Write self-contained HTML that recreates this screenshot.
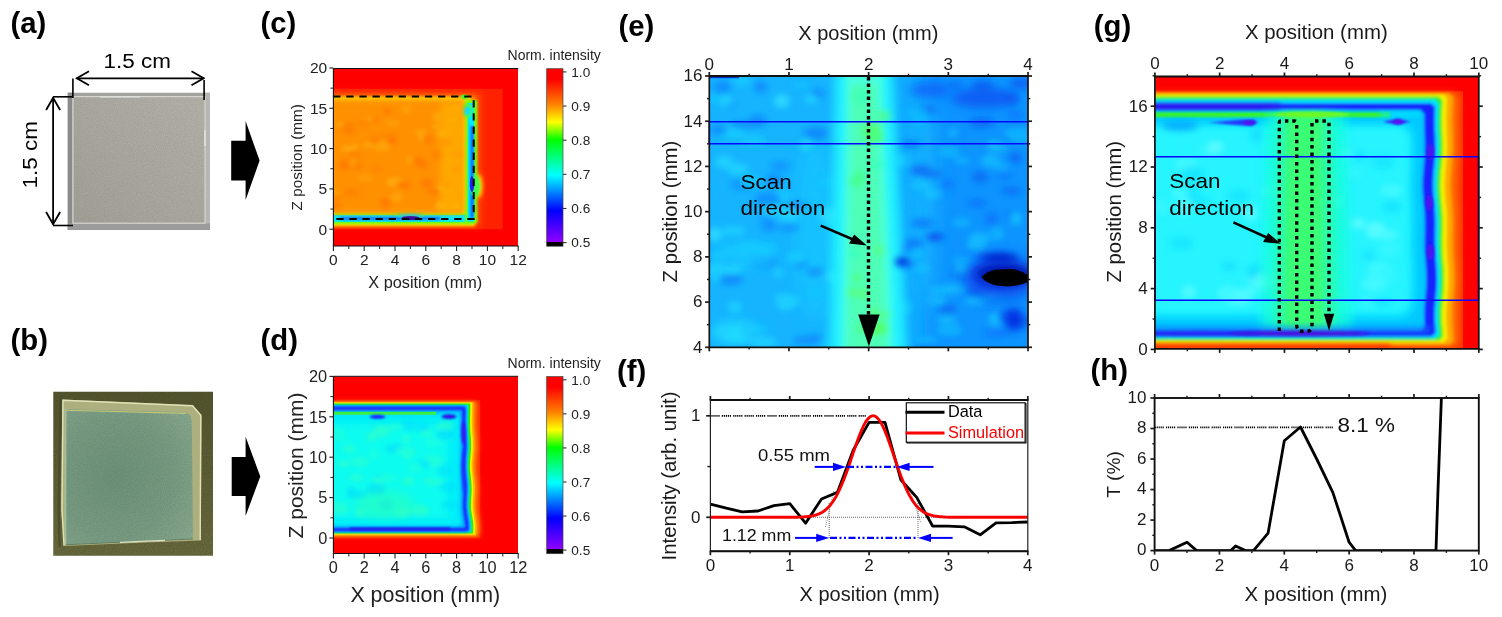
<!DOCTYPE html>
<html lang="en">
<head>
<meta charset="utf-8">
<title>Figure</title>
<style>
html,body{margin:0;padding:0;background:#ffffff;}
body{width:1502px;height:617px;overflow:hidden;}
svg{display:block;font-family:"Liberation Sans",Arial,sans-serif;}
</style>
</head>
<body>
<svg width="1502" height="617" viewBox="0 0 1502 617">
<rect x="0" y="0" width="1502" height="617" fill="#ffffff"/>
<defs>
<linearGradient id="cbar" x1="0" y1="0" x2="0" y2="1">
<stop offset="0.0" stop-color="#ff0000"/>
<stop offset="0.06" stop-color="#ff0000"/>
<stop offset="0.2" stop-color="#ff8000"/>
<stop offset="0.3" stop-color="#ffff00"/>
<stop offset="0.4" stop-color="#00ff00"/>
<stop offset="0.6" stop-color="#00ffff"/>
<stop offset="0.8" stop-color="#0000ff"/>
<stop offset="0.975" stop-color="#9000ff"/>
<stop offset="0.975" stop-color="#000000"/>
<stop offset="1.0" stop-color="#000000"/>
</linearGradient>
<filter id="b1" filterUnits="userSpaceOnUse" x="0" y="0" width="1502" height="617"><feGaussianBlur stdDeviation="1"/></filter>
<filter id="b07" filterUnits="userSpaceOnUse" x="0" y="0" width="1502" height="617"><feGaussianBlur stdDeviation="0.7"/></filter>
<filter id="b15" filterUnits="userSpaceOnUse" x="0" y="0" width="1502" height="617"><feGaussianBlur stdDeviation="1.5"/></filter>
<filter id="b2" filterUnits="userSpaceOnUse" x="0" y="0" width="1502" height="617"><feGaussianBlur stdDeviation="2"/></filter>
<filter id="b3" filterUnits="userSpaceOnUse" x="0" y="0" width="1502" height="617"><feGaussianBlur stdDeviation="3"/></filter>
<filter id="b5" filterUnits="userSpaceOnUse" x="0" y="0" width="1502" height="617"><feGaussianBlur stdDeviation="5"/></filter>
<filter id="b8" filterUnits="userSpaceOnUse" x="0" y="0" width="1502" height="617"><feGaussianBlur stdDeviation="8"/></filter>
<filter id="grain" x="0" y="0" width="100%" height="100%">
  <feTurbulence type="fractalNoise" baseFrequency="0.9" numOctaves="2" seed="3" result="n"/>
  <feColorMatrix in="n" type="matrix" values="0 0 0 0 0  0 0 0 0 0  0 0 0 0 0  0.9 0 0 -0.3 0" result="a"/>
  <feComposite in="SourceGraphic" in2="a" operator="in"/>
</filter>
<linearGradient id="gradA" x1="0" y1="1" x2="1" y2="0"><stop offset="0" stop-color="#a4a29a"/><stop offset="0.5" stop-color="#adaba3"/><stop offset="1" stop-color="#b6b4ac"/></linearGradient>
<linearGradient id="gradB0" x1="0" y1="0" x2="0" y2="1"><stop offset="0" stop-color="#565730"/><stop offset="1" stop-color="#6c6d40"/></linearGradient>
<radialGradient id="gradB1" cx="0.4" cy="0.5" r="0.75"><stop offset="0" stop-color="#70937b"/><stop offset="0.6" stop-color="#7b9d85"/><stop offset="1" stop-color="#8cac93"/></radialGradient>
<clipPath id="clipC"><rect x="333" y="68.5" width="185" height="177.5"/></clipPath>
<clipPath id="clipD"><rect x="333" y="376.5" width="185" height="177"/></clipPath>
<clipPath id="clipE"><rect x="709.5" y="76" width="318.5" height="271.3"/></clipPath>
<clipPath id="clipG"><rect x="1155.3" y="76.5" width="323.5" height="272.5"/></clipPath>
<clipPath id="clipA"><rect x="67.5" y="92.5" width="142.5" height="137.5"/></clipPath>
<clipPath id="clipB"><rect x="53.3" y="391.8" width="159.7" height="164"/></clipPath>
<clipPath id="clipF"><rect x="710.4" y="400" width="317.4" height="151.2"/></clipPath>
<clipPath id="clipH"><rect x="1155.3" y="398" width="323.5" height="152.6"/></clipPath>
</defs>
<text x="10.50" y="33.00" font-size="29.3" text-anchor="start" font-weight="bold" fill="#000" >(a)</text>
<text x="10.50" y="350.30" font-size="29.3" text-anchor="start" font-weight="bold" fill="#000" >(b)</text>
<text x="260.50" y="33.20" font-size="29.3" text-anchor="start" font-weight="bold" fill="#000" >(c)</text>
<text x="260.50" y="350.40" font-size="29.3" text-anchor="start" font-weight="bold" fill="#000" >(d)</text>
<text x="618.50" y="36.00" font-size="29.3" text-anchor="start" font-weight="bold" fill="#000" >(e)</text>
<text x="617.00" y="380.80" font-size="29.3" text-anchor="start" font-weight="bold" fill="#000" >(f)</text>
<text x="1093.80" y="35.70" font-size="29.3" text-anchor="start" font-weight="bold" fill="#000" >(g)</text>
<text x="1090.50" y="380.40" font-size="29.3" text-anchor="start" font-weight="bold" fill="#000" >(h)</text>
<g clip-path="url(#clipA)">
<rect x="67.5" y="92.5" width="142.5" height="137.5" fill="#a2a2a1"/>
<rect x="67.5" y="92.5" width="5" height="137.5" fill="#8b8b8b"/>
<rect x="205" y="92.5" width="5" height="137.5" fill="#b6b6b5"/>
<rect x="67.5" y="223.5" width="142.5" height="6.5" fill="#9c9c9c"/>
<rect x="72.6" y="96.3" width="132.6" height="127" fill="url(#gradA)"/>
<rect x="72.6" y="96.3" width="132.6" height="127" fill="#6f6b62" filter="url(#grain)" opacity="0.33"/>
<rect x="72.9" y="96.6" width="132.1" height="126.6" fill="none" stroke="#d6d5d0" stroke-width="1.2"/>
<line x1="205" y1="130" x2="205" y2="146" stroke="#e6e6e2" stroke-width="1.4"/>
<line x1="100" y1="96.8" x2="140" y2="96.8" stroke="#e2e2de" stroke-width="1.2"/>
</g>
<line x1="76.60" y1="78.30" x2="203.80" y2="78.30" stroke="#000" stroke-width="1.8" />
<polyline points="89,71.3 76.8,78.3 89,85.3" fill="none" stroke="#000" stroke-width="1.8"/>
<polyline points="191.5,71.3 203.7,78.3 191.5,85.3" fill="none" stroke="#000" stroke-width="1.8"/>
<line x1="72.90" y1="78.60" x2="72.90" y2="97.90" stroke="#000" stroke-width="1.6" />
<line x1="204.10" y1="80.00" x2="204.10" y2="100.00" stroke="#000" stroke-width="1.6" />
<text transform="translate(137.20,68.20) scale(1.07,1)" font-size="21" text-anchor="middle" fill="#000">1.5 cm</text>
<line x1="53.10" y1="97.70" x2="53.10" y2="224.30" stroke="#000" stroke-width="1.8" />
<polyline points="46.1,110 53.1,97.8 60.1,110" fill="none" stroke="#000" stroke-width="1.8"/>
<polyline points="46.1,212 53.1,224.2 60.1,212" fill="none" stroke="#000" stroke-width="1.8"/>
<line x1="53.00" y1="96.80" x2="72.50" y2="96.80" stroke="#000" stroke-width="1.6" />
<line x1="53.00" y1="225.50" x2="73.00" y2="225.50" stroke="#000" stroke-width="1.6" />
<text transform="translate(37.3,154.8) rotate(-90) scale(1.07,1)" font-size="21" text-anchor="middle" fill="#000">1.5 cm</text>
<polygon points="231.2,140.79999999999998 245.6,140.79999999999998 245.6,121.1 259.6,160.6 245.6,200.1 245.6,180.4 231.2,180.4" fill="#000"/>
<polygon points="231.7,456.9 245.6,456.9 245.6,436.79999999999995 260.3,476.4 245.6,516.0 245.6,495.9 231.7,495.9" fill="#000"/>
<g clip-path="url(#clipB)">
<rect x="53" y="391" width="160" height="165.2" fill="url(#gradB0)"/>
<rect x="53" y="391" width="160" height="165.2" fill="#2a2a14" filter="url(#grain)" opacity="0.4"/>
<polyline points="59.6,547 58.6,509 60.6,398" fill="none" stroke="#46482a" stroke-width="2.2" opacity="0.8"/>
<polygon points="62.2,399.6 192.8,405.2 201.5,415 200.8,540.4 145.7,542.6 64.3,546 61.2,509.8" fill="#adb07e"/>
<path d="M66.3,409.2 L183,412.2 Q191.4,412.6 191.8,421 L193,538.4 L145.5,540.6 L66.2,544.4 L64.8,509 Z" fill="url(#gradB1)"/>
<path d="M66.3,409.2 L183,412.2 Q191.4,412.6 191.8,421 L193,538.4 L145.5,540.6 L66.2,544.4 L64.8,509 Z" fill="#3f6248" filter="url(#grain)" opacity="0.35"/>
<polygon points="64.8,408.6 66.4,409 66.3,544.4 64.4,544.6" fill="#a6bd9c"/>
<polyline points="64,545.6 62,509.8 63,400.2 192.5,405.8 200.8,415.2 200.2,540" fill="none" stroke="#e0e2b6" stroke-width="1.4"/>
<line x1="66" y1="410.2" x2="186" y2="413.4" stroke="#c4c878" stroke-width="1.1"/>
<polyline points="66,544.8 145.6,541 192.8,539" fill="none" stroke="#4e7260" stroke-width="1.1" opacity="0.8"/>
<polyline points="120,542.4 145.6,541.2 165,540.3" fill="none" stroke="#e4ecd0" stroke-width="1.2" opacity="0.9"/>
</g>
<g clip-path="url(#clipC)">
<rect x="330" y="66" width="192" height="183" fill="#fe0000"/>
<rect x="330" y="88.8" width="172.6" height="140.4" fill="#ff2200"/>
<rect x="315" y="93" width="166" height="133.5" fill="#ff4a00" filter="url(#b3)"/>
<rect x="315" y="95.5" width="160" height="127.5" fill="#ff8a00" filter="url(#b2)"/>
<rect x="315" y="96.8" width="155.5" height="124.4" fill="#ffd000" filter="url(#b1)"/>
<ellipse cx="478" cy="186" rx="4.5" ry="12" fill="#ffe000" filter="url(#b2)"/>
<rect x="315" y="211.6" width="160" height="14.6" fill="#ffe000" filter="url(#b15)"/>
<rect x="315" y="213.2" width="159" height="10.6" fill="#60ff10" filter="url(#b1)"/>
<rect x="315" y="215" width="157.5" height="6.8" fill="#00e8ff" filter="url(#b07)"/>
<rect x="340" y="217.2" width="100" height="2.6" fill="#1060ff" filter="url(#b1)"/>
<ellipse cx="410" cy="214" rx="15" ry="3" fill="#50ff30" filter="url(#b1)"/>
<ellipse cx="410" cy="215.4" rx="12" ry="2.6" fill="#00d8ff" filter="url(#b1)"/>
<ellipse cx="410.5" cy="218" rx="9" ry="2" fill="#3008a8" filter="url(#b07)"/>
<rect x="465.3" y="100" width="12" height="123" fill="#70ff10" filter="url(#b1)"/>
<rect x="467.8" y="103" width="6.4" height="118.5" fill="#00e8ff" filter="url(#b07)"/>
<rect x="470.6" y="126" width="3" height="92" fill="#1060ff" filter="url(#b1)"/>
<ellipse cx="466.3" cy="110.5" rx="6.5" ry="7" fill="#50ff30" filter="url(#b1)"/>
<ellipse cx="467" cy="110.8" rx="4.2" ry="4.4" fill="#00e4ff" filter="url(#b1)"/>
<ellipse cx="475" cy="186" rx="5" ry="11" fill="#40ff50" filter="url(#b1)"/>
<ellipse cx="472" cy="184" rx="2.2" ry="8" fill="#2020f0" filter="url(#b07)"/>
<ellipse cx="464.5" cy="97" rx="3.4" ry="2.4" fill="#40ff30" filter="url(#b07)"/>
<rect x="315" y="100" width="148.5" height="113.6" fill="#ff9806" filter="url(#b2)"/>
<rect x="315" y="103" width="128" height="107" fill="#ff9000" filter="url(#b3)"/>
<g filter="url(#b2)" opacity="0.6">
<ellipse cx="373.5" cy="120.1" rx="6.5" ry="2.4" fill="#ff7000"/>
<ellipse cx="344.8" cy="166.4" rx="7.8" ry="2.9" fill="#ff7800"/>
<ellipse cx="387.2" cy="111.5" rx="3.7" ry="3.6" fill="#ff7000"/>
<ellipse cx="348.5" cy="127.9" rx="6.4" ry="5.3" fill="#ff7000"/>
<ellipse cx="406.2" cy="109.3" rx="4.4" ry="4.0" fill="#ffb010"/>
<ellipse cx="369.2" cy="119.4" rx="3.9" ry="3.2" fill="#ffa408"/>
<ellipse cx="355.6" cy="166.2" rx="6.5" ry="3.4" fill="#ff7000"/>
<ellipse cx="422.0" cy="164.4" rx="6.4" ry="3.8" fill="#ff7000"/>
<ellipse cx="386.4" cy="137.6" rx="6.2" ry="3.7" fill="#ff7e00"/>
<ellipse cx="364.1" cy="123.2" rx="7.2" ry="2.5" fill="#ff7e00"/>
<ellipse cx="398.6" cy="197.6" rx="6.9" ry="3.2" fill="#ff7800"/>
<ellipse cx="347.8" cy="148.7" rx="7.0" ry="2.7" fill="#ffb818"/>
<ellipse cx="385.7" cy="206.9" rx="3.7" ry="4.0" fill="#ff7e00"/>
<ellipse cx="375.5" cy="141.5" rx="5.8" ry="4.8" fill="#ff7800"/>
<ellipse cx="438.0" cy="205.1" rx="5.6" ry="4.4" fill="#ff7800"/>
<ellipse cx="424.4" cy="137.1" rx="6.2" ry="4.4" fill="#ffb818"/>
<ellipse cx="368.6" cy="145.3" rx="6.6" ry="2.3" fill="#ffb818"/>
<ellipse cx="377.4" cy="169.4" rx="5.7" ry="2.9" fill="#ff7e00"/>
<ellipse cx="349.2" cy="130.5" rx="5.2" ry="5.1" fill="#ff7800"/>
<ellipse cx="353.8" cy="147.0" rx="4.7" ry="2.7" fill="#ffb818"/>
<ellipse cx="441.0" cy="133.8" rx="5.4" ry="3.4" fill="#ffb818"/>
<ellipse cx="452.7" cy="120.1" rx="4.2" ry="3.0" fill="#ffb010"/>
<ellipse cx="334.5" cy="192.9" rx="4.2" ry="3.1" fill="#ffb010"/>
<ellipse cx="385.4" cy="143.5" rx="6.1" ry="5.3" fill="#ffa408"/>
<ellipse cx="440.4" cy="205.7" rx="6.5" ry="4.6" fill="#ffb818"/>
<ellipse cx="445.4" cy="187.5" rx="7.6" ry="4.8" fill="#ffb818"/>
<ellipse cx="382.8" cy="146.2" rx="5.7" ry="3.5" fill="#ffb010"/>
<ellipse cx="341.4" cy="126.3" rx="4.1" ry="3.3" fill="#ff7800"/>
<ellipse cx="345.8" cy="164.6" rx="6.0" ry="5.3" fill="#ff7000"/>
<ellipse cx="336.2" cy="197.6" rx="6.3" ry="2.7" fill="#ff7e00"/>
<ellipse cx="452.4" cy="168.4" rx="5.6" ry="2.6" fill="#ffb818"/>
<ellipse cx="457.1" cy="153.9" rx="5.7" ry="2.5" fill="#ff7800"/>
<ellipse cx="426.7" cy="183.2" rx="5.7" ry="4.5" fill="#ff7000"/>
<ellipse cx="335.9" cy="205.8" rx="5.9" ry="2.7" fill="#ff7000"/>
<ellipse cx="447.3" cy="185.1" rx="4.8" ry="4.3" fill="#ff7800"/>
<ellipse cx="420.0" cy="131.9" rx="5.1" ry="2.8" fill="#ffb010"/>
<ellipse cx="399.6" cy="187.4" rx="4.9" ry="2.9" fill="#ffb010"/>
<ellipse cx="433.8" cy="191.6" rx="7.0" ry="2.9" fill="#ff7000"/>
<ellipse cx="394.6" cy="182.2" rx="8.2" ry="4.8" fill="#ffb818"/>
<ellipse cx="365.4" cy="178.1" rx="8.0" ry="3.7" fill="#ffa408"/>
<ellipse cx="456.5" cy="206.2" rx="5.1" ry="2.9" fill="#ffb010"/>
<ellipse cx="391.8" cy="140.1" rx="5.7" ry="5.5" fill="#ff7000"/>
<ellipse cx="438.1" cy="155.3" rx="6.5" ry="4.8" fill="#ff7800"/>
<ellipse cx="437.3" cy="116.8" rx="5.2" ry="4.5" fill="#ffb010"/>
<ellipse cx="392.8" cy="123.1" rx="7.2" ry="3.3" fill="#ffa408"/>
<ellipse cx="382.5" cy="146.9" rx="8.0" ry="4.6" fill="#ffb010"/>
<ellipse cx="457.1" cy="106.9" rx="6.2" ry="3.7" fill="#ffa408"/>
<ellipse cx="351.3" cy="192.4" rx="8.2" ry="4.4" fill="#ff7e00"/>
<ellipse cx="352.5" cy="162.7" rx="3.4" ry="4.8" fill="#ffa408"/>
<ellipse cx="414.2" cy="160.3" rx="7.9" ry="3.6" fill="#ffb010"/>
<ellipse cx="436.3" cy="126.6" rx="4.5" ry="3.2" fill="#ffb010"/>
<ellipse cx="428.5" cy="138.9" rx="6.0" ry="5.0" fill="#ff7800"/>
<ellipse cx="446.8" cy="141.9" rx="5.6" ry="4.1" fill="#ff7000"/>
<ellipse cx="385.6" cy="202.2" rx="5.8" ry="4.0" fill="#ff7000"/>
<ellipse cx="396.8" cy="197.4" rx="7.1" ry="4.2" fill="#ffb010"/>
<ellipse cx="354.5" cy="154.7" rx="6.9" ry="4.0" fill="#ff7e00"/>
<ellipse cx="418.3" cy="160.8" rx="5.7" ry="4.8" fill="#ff7000"/>
<ellipse cx="340.1" cy="124.5" rx="3.5" ry="2.5" fill="#ffb818"/>
<ellipse cx="403.2" cy="185.3" rx="7.8" ry="3.7" fill="#ff7000"/>
<ellipse cx="454.7" cy="168.9" rx="4.3" ry="3.1" fill="#ff7000"/>
</g>
<rect x="440" y="104" width="22" height="108" fill="#ffb800" opacity="0.5" filter="url(#b3)"/>
</g>
<polyline points="333.2,96.6 473.7,96.6 473.7,219 333.2,219" fill="none" stroke="#000" stroke-width="2" stroke-dasharray="7.3 5.8"/>
<line x1="333.40" y1="68.50" x2="518.20" y2="68.50" stroke="#111" stroke-width="1.0" />
<line x1="333.40" y1="68.50" x2="333.40" y2="246.00" stroke="#111" stroke-width="1.1" />
<line x1="332.90" y1="246.00" x2="518.70" y2="246.00" stroke="#111" stroke-width="1.2" />
<line x1="329.40" y1="229.20" x2="333.40" y2="229.20" stroke="#222" stroke-width="1.1" />
<text x="327.20" y="234.62" font-size="15.5" text-anchor="end" font-weight="normal" fill="#222" >0</text>
<line x1="329.40" y1="188.90" x2="333.40" y2="188.90" stroke="#222" stroke-width="1.1" />
<text x="327.20" y="194.32" font-size="15.5" text-anchor="end" font-weight="normal" fill="#222" >5</text>
<line x1="329.40" y1="148.60" x2="333.40" y2="148.60" stroke="#222" stroke-width="1.1" />
<text x="327.20" y="154.02" font-size="15.5" text-anchor="end" font-weight="normal" fill="#222" >10</text>
<line x1="329.40" y1="108.30" x2="333.40" y2="108.30" stroke="#222" stroke-width="1.1" />
<text x="327.20" y="113.72" font-size="15.5" text-anchor="end" font-weight="normal" fill="#222" >15</text>
<line x1="329.40" y1="68.00" x2="333.40" y2="68.00" stroke="#222" stroke-width="1.1" />
<text x="327.20" y="73.42" font-size="15.5" text-anchor="end" font-weight="normal" fill="#222" >20</text>
<line x1="330.40" y1="209.05" x2="333.40" y2="209.05" stroke="#222" stroke-width="1.0" />
<line x1="330.40" y1="168.75" x2="333.40" y2="168.75" stroke="#222" stroke-width="1.0" />
<line x1="330.40" y1="128.45" x2="333.40" y2="128.45" stroke="#222" stroke-width="1.0" />
<line x1="330.40" y1="88.15" x2="333.40" y2="88.15" stroke="#222" stroke-width="1.0" />
<line x1="333.40" y1="246.00" x2="333.40" y2="251.00" stroke="#222" stroke-width="1.1" />
<text x="333.40" y="265.20" font-size="15.5" text-anchor="middle" font-weight="normal" fill="#222" >0</text>
<line x1="348.80" y1="246.00" x2="348.80" y2="249.00" stroke="#222" stroke-width="1.0" />
<line x1="364.20" y1="246.00" x2="364.20" y2="251.00" stroke="#222" stroke-width="1.1" />
<text x="364.20" y="265.20" font-size="15.5" text-anchor="middle" font-weight="normal" fill="#222" >2</text>
<line x1="379.60" y1="246.00" x2="379.60" y2="249.00" stroke="#222" stroke-width="1.0" />
<line x1="395.00" y1="246.00" x2="395.00" y2="251.00" stroke="#222" stroke-width="1.1" />
<text x="395.00" y="265.20" font-size="15.5" text-anchor="middle" font-weight="normal" fill="#222" >4</text>
<line x1="410.40" y1="246.00" x2="410.40" y2="249.00" stroke="#222" stroke-width="1.0" />
<line x1="425.80" y1="246.00" x2="425.80" y2="251.00" stroke="#222" stroke-width="1.1" />
<text x="425.80" y="265.20" font-size="15.5" text-anchor="middle" font-weight="normal" fill="#222" >6</text>
<line x1="441.20" y1="246.00" x2="441.20" y2="249.00" stroke="#222" stroke-width="1.0" />
<line x1="456.60" y1="246.00" x2="456.60" y2="251.00" stroke="#222" stroke-width="1.1" />
<text x="456.60" y="265.20" font-size="15.5" text-anchor="middle" font-weight="normal" fill="#222" >8</text>
<line x1="472.00" y1="246.00" x2="472.00" y2="249.00" stroke="#222" stroke-width="1.0" />
<line x1="487.40" y1="246.00" x2="487.40" y2="251.00" stroke="#222" stroke-width="1.1" />
<text x="487.40" y="265.20" font-size="15.5" text-anchor="middle" font-weight="normal" fill="#222" >10</text>
<line x1="502.80" y1="246.00" x2="502.80" y2="249.00" stroke="#222" stroke-width="1.0" />
<line x1="518.20" y1="246.00" x2="518.20" y2="251.00" stroke="#222" stroke-width="1.1" />
<text x="518.20" y="265.20" font-size="15.5" text-anchor="middle" font-weight="normal" fill="#222" >12</text>
<text transform="translate(302.00,157.25) rotate(-90)" font-size="15.3" text-anchor="middle" fill="#222">Z position (mm)</text>
<text x="425.30" y="288.20" font-size="16.3" text-anchor="middle" font-weight="normal" fill="#222" >X position (mm)</text>
<rect x="546.7" y="68.7" width="16.3" height="177.50" fill="url(#cbar)" stroke="#444" stroke-width="0.7"/>
<line x1="563.00" y1="242.60" x2="566.50" y2="242.60" stroke="#333" stroke-width="1.1" />
<text x="571.30" y="247.40" font-size="13.6" text-anchor="start" font-weight="normal" fill="#222" >0.5</text>
<line x1="563.00" y1="208.46" x2="566.50" y2="208.46" stroke="#333" stroke-width="1.1" />
<text x="571.30" y="213.26" font-size="13.6" text-anchor="start" font-weight="normal" fill="#222" >0.6</text>
<line x1="563.00" y1="174.32" x2="566.50" y2="174.32" stroke="#333" stroke-width="1.1" />
<text x="571.30" y="179.12" font-size="13.6" text-anchor="start" font-weight="normal" fill="#222" >0.7</text>
<line x1="563.00" y1="140.18" x2="566.50" y2="140.18" stroke="#333" stroke-width="1.1" />
<text x="571.30" y="144.98" font-size="13.6" text-anchor="start" font-weight="normal" fill="#222" >0.8</text>
<line x1="563.00" y1="106.04" x2="566.50" y2="106.04" stroke="#333" stroke-width="1.1" />
<text x="571.30" y="110.84" font-size="13.6" text-anchor="start" font-weight="normal" fill="#222" >0.9</text>
<line x1="563.00" y1="71.90" x2="566.50" y2="71.90" stroke="#333" stroke-width="1.1" />
<text x="571.30" y="76.70" font-size="13.6" text-anchor="start" font-weight="normal" fill="#222" >1.0</text>
<text x="554.20" y="59.50" font-size="14" text-anchor="middle" font-weight="normal" fill="#222" >Norm. intensity</text>
<g clip-path="url(#clipD)">
<rect x="330" y="374" width="192" height="183" fill="#fe0000"/>
<rect x="330" y="400.3" width="150" height="137.5" fill="#ff2600"/>
<g filter="url(#b2)">
<polygon points="320,401.6 477.8,401.6 477.9,406.4 477.8,411.3 477.7,416.1 477.6,420.9 477.6,425.8 477.9,430.6 478.2,435.5 478.6,440.3 478.7,445.1 478.6,450.0 478.2,454.8 477.8,459.6 477.5,464.5 477.6,469.3 478.0,474.1 478.5,479.0 479.0,483.8 479.2,488.6 479.1,493.5 478.8,498.3 478.6,503.1 478.6,508.0 479.1,512.8 479.9,517.7 480.7,522.5 481.0,527.3 480.7,532.2 480.0,537.0 320,537.0" fill="#ff6000"/>
</g>
<g filter="url(#b15)">
<polygon points="320,402.0 474.9,402.0 475.0,406.8 474.9,411.6 474.8,416.4 474.7,421.1 474.7,425.9 475.0,430.7 475.3,435.5 475.7,440.3 475.8,445.1 475.7,449.9 475.3,454.6 474.9,459.4 474.6,464.2 474.6,469.0 475.0,473.8 475.6,478.6 476.1,483.4 476.3,488.1 476.2,492.9 475.9,497.7 475.7,502.5 475.7,507.3 476.1,512.1 476.9,516.9 477.6,521.6 478.1,526.4 477.9,531.2 477.3,536.0 320,536.0" fill="#ff9800"/>
</g>
<g filter="url(#b07)">
<polygon points="320,402.2 473.5,402.2 473.6,407.0 473.5,411.7 473.4,416.5 473.3,421.3 473.3,426.0 473.6,430.8 473.9,435.6 474.3,440.3 474.4,445.1 474.3,449.8 473.9,454.6 473.5,459.4 473.2,464.1 473.2,468.9 473.6,473.7 474.2,478.4 474.7,483.2 474.9,488.0 474.9,492.7 474.6,497.5 474.3,502.2 474.3,507.0 474.7,511.8 475.4,516.5 476.2,521.3 476.7,526.1 476.6,530.8 476.0,535.6 320,535.6" fill="#ffb400"/>
<polygon points="320,402.6 472.0,402.6 472.1,407.3 472.0,412.0 471.9,416.7 471.8,421.5 471.9,426.2 472.1,430.9 472.4,435.6 472.8,440.3 472.9,445.0 472.8,449.7 472.4,454.5 472.0,459.2 471.7,463.9 471.7,468.6 472.1,473.3 472.6,478.0 473.1,482.7 473.4,487.5 473.4,492.2 473.1,496.9 472.8,501.6 472.8,506.3 473.1,511.0 473.8,515.7 474.6,520.5 475.1,525.2 475.1,529.9 474.6,534.6 320,534.6" fill="#f4f000"/>
<polygon points="320,403.5 470.2,403.5 470.3,408.1 470.2,412.8 470.1,417.4 470.0,422.1 470.1,426.7 470.3,431.4 470.7,436.0 471.0,440.7 471.1,445.3 471.0,450.0 470.6,454.6 470.2,459.3 469.9,463.9 469.9,468.6 470.3,473.2 470.8,477.8 471.3,482.5 471.6,487.1 471.6,491.8 471.3,496.4 471.0,501.1 470.9,505.7 471.2,510.4 471.9,515.0 472.7,519.7 473.2,524.3 473.4,529.0 473.0,533.6 320,533.6" fill="#20f020"/>
<polygon points="320,404.9 468.0,404.9 468.1,409.4 468.0,414.0 467.9,418.5 467.8,423.1 467.9,427.6 468.2,432.2 468.5,436.8 468.8,441.3 468.9,445.8 468.8,450.4 468.4,454.9 468.0,459.5 467.7,464.0 467.7,468.6 468.1,473.1 468.6,477.7 469.1,482.2 469.4,486.8 469.4,491.3 469.2,495.9 468.9,500.4 468.7,505.0 469.0,509.5 469.5,514.1 470.3,518.6 470.9,523.2 471.2,527.8 470.9,532.3 320,532.3" fill="#00e0ff"/>
</g>
<polyline points="320,409.2 462.6,409.2 462.5,413.5 462.4,417.7 462.3,422.0 462.4,426.3 462.6,430.5 462.9,434.8 463.2,439.1 463.4,443.3 463.4,447.6 463.2,451.8 462.8,456.1 462.4,460.4 462.2,464.6 462.2,468.9 462.6,473.2 463.0,477.4 463.5,481.7 463.9,486.0 463.9,490.2 463.8,494.5 463.5,498.8 463.3,503.0 463.3,507.3 463.7,511.5 464.3,515.8 465.0,520.1 465.5,524.3 465.7,528.6 320,528.6" fill="none" stroke="#00b4ff" stroke-width="7.5" stroke-linejoin="round" filter="url(#b15)"/>
<polyline points="320,408.3 464.0,408.3 463.9,412.6 463.8,417.0 463.7,421.3 463.7,425.6 463.9,429.9 464.2,434.3 464.5,438.6 464.8,442.9 464.8,447.3 464.6,451.6 464.2,455.9 463.8,460.2 463.6,464.6 463.6,468.9 464.0,473.2 464.5,477.6 465.0,481.9 465.3,486.2 465.3,490.5 465.1,494.9 464.8,499.2 464.6,503.5 464.7,507.9 465.2,512.2 465.8,516.5 466.5,520.8 467.0,525.2 467.1,529.5 320,529.5" fill="none" stroke="#1a2cff" stroke-width="3.6" stroke-linejoin="round" filter="url(#b1)"/>
<g filter="url(#b07)">
<rect x="320" y="411.8" width="116" height="3.2" fill="#40f030"/>
</g>
<rect x="320" y="416" width="139" height="109" fill="#04eef8" filter="url(#b2)"/>
<rect x="320" y="424" width="128" height="94" fill="#10fcf0" filter="url(#b5)"/>
<g filter="url(#b2)" opacity="0.5">
<ellipse cx="387.6" cy="477.7" rx="10.0" ry="4.9" fill="#20ffd8"/>
<ellipse cx="433.5" cy="442.2" rx="9.3" ry="4.9" fill="#20ffd8"/>
<ellipse cx="426.4" cy="433.0" rx="6.3" ry="3.4" fill="#38ffc0"/>
<ellipse cx="408.3" cy="481.2" rx="6.9" ry="4.8" fill="#38ffc0"/>
<ellipse cx="406.2" cy="439.1" rx="4.6" ry="5.1" fill="#30ffc8"/>
<ellipse cx="340.1" cy="508.4" rx="8.1" ry="6.1" fill="#40ffb8"/>
<ellipse cx="386.2" cy="504.9" rx="7.6" ry="5.6" fill="#00d4ff"/>
<ellipse cx="336.5" cy="432.2" rx="8.4" ry="4.6" fill="#20ffd8"/>
<ellipse cx="449.5" cy="504.7" rx="8.7" ry="4.3" fill="#00dcff"/>
<ellipse cx="394.5" cy="426.9" rx="7.9" ry="3.4" fill="#30ffc8"/>
<ellipse cx="432.5" cy="461.1" rx="10.2" ry="6.4" fill="#30ffc8"/>
<ellipse cx="360.3" cy="513.0" rx="4.8" ry="4.5" fill="#38ffc0"/>
<ellipse cx="381.3" cy="431.0" rx="8.3" ry="6.1" fill="#40ffb8"/>
<ellipse cx="374.4" cy="453.9" rx="4.6" ry="4.6" fill="#30ffc8"/>
<ellipse cx="351.3" cy="491.9" rx="4.6" ry="4.9" fill="#00d4ff"/>
<ellipse cx="356.3" cy="477.7" rx="7.2" ry="3.8" fill="#38ffc0"/>
<ellipse cx="423.7" cy="464.2" rx="6.8" ry="4.6" fill="#00dcff"/>
<ellipse cx="336.1" cy="507.0" rx="10.3" ry="5.4" fill="#30ffc8"/>
<ellipse cx="360.0" cy="461.9" rx="9.6" ry="5.6" fill="#30ffc8"/>
<ellipse cx="340.8" cy="438.1" rx="7.1" ry="3.0" fill="#20ffd8"/>
<ellipse cx="373.5" cy="452.4" rx="4.9" ry="3.4" fill="#20ffd8"/>
<ellipse cx="408.6" cy="425.5" rx="6.7" ry="5.5" fill="#00dcff"/>
<ellipse cx="445.3" cy="470.4" rx="7.9" ry="6.5" fill="#00dcff"/>
<ellipse cx="407.5" cy="453.8" rx="5.9" ry="5.4" fill="#38ffc0"/>
<ellipse cx="357.6" cy="495.0" rx="10.1" ry="3.8" fill="#00d4ff"/>
<ellipse cx="436.6" cy="481.9" rx="7.0" ry="3.4" fill="#30ffc8"/>
<ellipse cx="394.4" cy="448.5" rx="8.9" ry="4.6" fill="#00d4ff"/>
<ellipse cx="429.9" cy="481.3" rx="6.3" ry="3.7" fill="#38ffc0"/>
<ellipse cx="447.4" cy="436.1" rx="7.4" ry="5.6" fill="#20ffd8"/>
<ellipse cx="406.0" cy="450.9" rx="10.0" ry="3.8" fill="#30ffc8"/>
<ellipse cx="343.9" cy="463.5" rx="6.0" ry="3.2" fill="#40ffb8"/>
<ellipse cx="378.0" cy="478.9" rx="5.3" ry="4.4" fill="#00d4ff"/>
<ellipse cx="447.8" cy="487.1" rx="8.6" ry="5.3" fill="#00dcff"/>
<ellipse cx="403.2" cy="512.7" rx="7.3" ry="4.4" fill="#40ffb8"/>
<ellipse cx="445.8" cy="426.0" rx="8.3" ry="4.9" fill="#38ffc0"/>
<ellipse cx="371.5" cy="437.1" rx="4.9" ry="4.8" fill="#40ffb8"/>
<ellipse cx="420.0" cy="510.4" rx="8.9" ry="5.8" fill="#40ffb8"/>
<ellipse cx="376.1" cy="489.8" rx="9.9" ry="6.5" fill="#00d4ff"/>
<ellipse cx="443.6" cy="426.9" rx="7.5" ry="3.1" fill="#38ffc0"/>
<ellipse cx="379.6" cy="479.9" rx="8.2" ry="3.3" fill="#38ffc0"/>
<ellipse cx="349.2" cy="448.7" rx="7.0" ry="4.3" fill="#38ffc0"/>
<ellipse cx="415.1" cy="467.9" rx="7.3" ry="5.2" fill="#20ffd8"/>
<ellipse cx="421.5" cy="426.9" rx="8.1" ry="4.9" fill="#00dcff"/>
<ellipse cx="445.1" cy="434.8" rx="9.2" ry="5.6" fill="#00d4ff"/>
</g>
<ellipse cx="385" cy="505" rx="30" ry="14" fill="#30ffb0" opacity="0.5" filter="url(#b5)"/>
<ellipse cx="377.5" cy="416.8" rx="8" ry="2.0" fill="#2020ff" filter="url(#b1)"/>
<ellipse cx="449" cy="416.6" rx="7.5" ry="2.4" fill="#3010e8" filter="url(#b1)"/>
<ellipse cx="463.5" cy="433" rx="2.2" ry="12" fill="#3818f0" opacity="0.9" filter="url(#b1)"/>
<ellipse cx="463.5" cy="470" rx="2.0" ry="22" fill="#2030ff" opacity="0.7" filter="url(#b1)"/>
<rect x="350" y="527.6" width="100" height="2.6" fill="#2010e0" opacity="0.8" filter="url(#b1)"/>
</g>
<line x1="333.40" y1="376.30" x2="518.20" y2="376.30" stroke="#111" stroke-width="1.0" />
<line x1="333.40" y1="376.30" x2="333.40" y2="553.50" stroke="#111" stroke-width="1.1" />
<line x1="332.90" y1="553.50" x2="518.70" y2="553.50" stroke="#111" stroke-width="1.2" />
<line x1="329.40" y1="538.00" x2="333.40" y2="538.00" stroke="#222" stroke-width="1.1" />
<text x="327.20" y="543.71" font-size="16.3" text-anchor="end" font-weight="normal" fill="#222" >0</text>
<line x1="329.40" y1="497.60" x2="333.40" y2="497.60" stroke="#222" stroke-width="1.1" />
<text x="327.20" y="503.31" font-size="16.3" text-anchor="end" font-weight="normal" fill="#222" >5</text>
<line x1="329.40" y1="457.20" x2="333.40" y2="457.20" stroke="#222" stroke-width="1.1" />
<text x="327.20" y="462.90" font-size="16.3" text-anchor="end" font-weight="normal" fill="#222" >10</text>
<line x1="329.40" y1="416.80" x2="333.40" y2="416.80" stroke="#222" stroke-width="1.1" />
<text x="327.20" y="422.50" font-size="16.3" text-anchor="end" font-weight="normal" fill="#222" >15</text>
<line x1="329.40" y1="376.40" x2="333.40" y2="376.40" stroke="#222" stroke-width="1.1" />
<text x="327.20" y="382.10" font-size="16.3" text-anchor="end" font-weight="normal" fill="#222" >20</text>
<line x1="330.40" y1="517.80" x2="333.40" y2="517.80" stroke="#222" stroke-width="1.0" />
<line x1="330.40" y1="477.40" x2="333.40" y2="477.40" stroke="#222" stroke-width="1.0" />
<line x1="330.40" y1="437.00" x2="333.40" y2="437.00" stroke="#222" stroke-width="1.0" />
<line x1="330.40" y1="396.60" x2="333.40" y2="396.60" stroke="#222" stroke-width="1.0" />
<line x1="333.40" y1="553.50" x2="333.40" y2="558.50" stroke="#222" stroke-width="1.1" />
<text x="333.40" y="572.80" font-size="16.3" text-anchor="middle" font-weight="normal" fill="#222" >0</text>
<line x1="348.80" y1="553.50" x2="348.80" y2="556.50" stroke="#222" stroke-width="1.0" />
<line x1="364.20" y1="553.50" x2="364.20" y2="558.50" stroke="#222" stroke-width="1.1" />
<text x="364.20" y="572.80" font-size="16.3" text-anchor="middle" font-weight="normal" fill="#222" >2</text>
<line x1="379.60" y1="553.50" x2="379.60" y2="556.50" stroke="#222" stroke-width="1.0" />
<line x1="395.00" y1="553.50" x2="395.00" y2="558.50" stroke="#222" stroke-width="1.1" />
<text x="395.00" y="572.80" font-size="16.3" text-anchor="middle" font-weight="normal" fill="#222" >4</text>
<line x1="410.40" y1="553.50" x2="410.40" y2="556.50" stroke="#222" stroke-width="1.0" />
<line x1="425.80" y1="553.50" x2="425.80" y2="558.50" stroke="#222" stroke-width="1.1" />
<text x="425.80" y="572.80" font-size="16.3" text-anchor="middle" font-weight="normal" fill="#222" >6</text>
<line x1="441.20" y1="553.50" x2="441.20" y2="556.50" stroke="#222" stroke-width="1.0" />
<line x1="456.60" y1="553.50" x2="456.60" y2="558.50" stroke="#222" stroke-width="1.1" />
<text x="456.60" y="572.80" font-size="16.3" text-anchor="middle" font-weight="normal" fill="#222" >8</text>
<line x1="472.00" y1="553.50" x2="472.00" y2="556.50" stroke="#222" stroke-width="1.0" />
<line x1="487.40" y1="553.50" x2="487.40" y2="558.50" stroke="#222" stroke-width="1.1" />
<text x="487.40" y="572.80" font-size="16.3" text-anchor="middle" font-weight="normal" fill="#222" >10</text>
<line x1="502.80" y1="553.50" x2="502.80" y2="556.50" stroke="#222" stroke-width="1.0" />
<line x1="518.20" y1="553.50" x2="518.20" y2="558.50" stroke="#222" stroke-width="1.1" />
<text x="518.20" y="572.80" font-size="16.3" text-anchor="middle" font-weight="normal" fill="#222" >12</text>
<text transform="translate(302.60,465.50) rotate(-90)" font-size="21" text-anchor="middle" fill="#222">Z position (mm)</text>
<text x="425.30" y="601.70" font-size="21.4" text-anchor="middle" font-weight="normal" fill="#222" >X position (mm)</text>
<rect x="546.7" y="376.6" width="16.3" height="177.10" fill="url(#cbar)" stroke="#444" stroke-width="0.7"/>
<line x1="563.00" y1="550.10" x2="566.50" y2="550.10" stroke="#333" stroke-width="1.1" />
<text x="571.30" y="554.90" font-size="13.6" text-anchor="start" font-weight="normal" fill="#222" >0.5</text>
<line x1="563.00" y1="516.04" x2="566.50" y2="516.04" stroke="#333" stroke-width="1.1" />
<text x="571.30" y="520.84" font-size="13.6" text-anchor="start" font-weight="normal" fill="#222" >0.6</text>
<line x1="563.00" y1="481.98" x2="566.50" y2="481.98" stroke="#333" stroke-width="1.1" />
<text x="571.30" y="486.78" font-size="13.6" text-anchor="start" font-weight="normal" fill="#222" >0.7</text>
<line x1="563.00" y1="447.92" x2="566.50" y2="447.92" stroke="#333" stroke-width="1.1" />
<text x="571.30" y="452.72" font-size="13.6" text-anchor="start" font-weight="normal" fill="#222" >0.8</text>
<line x1="563.00" y1="413.86" x2="566.50" y2="413.86" stroke="#333" stroke-width="1.1" />
<text x="571.30" y="418.66" font-size="13.6" text-anchor="start" font-weight="normal" fill="#222" >0.9</text>
<line x1="563.00" y1="379.80" x2="566.50" y2="379.80" stroke="#333" stroke-width="1.1" />
<text x="571.30" y="384.60" font-size="13.6" text-anchor="start" font-weight="normal" fill="#222" >1.0</text>
<text x="554.20" y="367.50" font-size="14" text-anchor="middle" font-weight="normal" fill="#222" >Norm. intensity</text>
<g clip-path="url(#clipE)">
<rect x="700" y="70" width="335" height="285" fill="#10aaff"/>
<rect x="925" y="60" width="140" height="300" fill="#0c94ff" filter="url(#b8)"/>
<rect x="690" y="60" width="150" height="300" fill="#12b4ff" filter="url(#b8)"/>
<ellipse cx="815" cy="230" rx="20" ry="90" fill="#18c8ff" opacity="0.7" filter="url(#b8)"/>
<ellipse cx="925" cy="200" rx="14" ry="110" fill="#14b8ff" opacity="0.6" filter="url(#b8)"/>
<g filter="url(#b3)" opacity="0.65">
<ellipse cx="732.8" cy="262.8" rx="10.5" ry="4.9" fill="#0a80ff"/>
<ellipse cx="836.7" cy="205.8" rx="13.0" ry="3.7" fill="#10c8ff"/>
<ellipse cx="741.7" cy="80.8" rx="8.5" ry="5.3" fill="#18d4ff"/>
<ellipse cx="730.3" cy="279.1" rx="12.7" ry="5.8" fill="#0a78f8"/>
<ellipse cx="837.7" cy="275.8" rx="12.4" ry="5.5" fill="#18d4ff"/>
<ellipse cx="832.6" cy="223.1" rx="11.0" ry="5.6" fill="#28e0ff"/>
<ellipse cx="714.9" cy="276.4" rx="6.4" ry="6.2" fill="#18d4ff"/>
<ellipse cx="769.1" cy="226.3" rx="8.3" ry="4.9" fill="#0a80ff"/>
<ellipse cx="795.8" cy="204.5" rx="11.9" ry="3.3" fill="#0a80ff"/>
<ellipse cx="738.3" cy="336.7" rx="12.5" ry="6.0" fill="#20dcff"/>
<ellipse cx="825.1" cy="342.0" rx="6.2" ry="5.2" fill="#10c8ff"/>
<ellipse cx="816.2" cy="133.3" rx="12.7" ry="6.6" fill="#0a78f8"/>
<ellipse cx="748.8" cy="332.9" rx="9.5" ry="4.3" fill="#0a78f8"/>
<ellipse cx="760.7" cy="87.1" rx="6.4" ry="5.9" fill="#0a78f8"/>
<ellipse cx="712.4" cy="98.6" rx="10.3" ry="5.1" fill="#10c8ff"/>
<ellipse cx="788.7" cy="227.5" rx="10.4" ry="3.7" fill="#0a80ff"/>
<ellipse cx="790.9" cy="300.9" rx="8.2" ry="6.0" fill="#28e0ff"/>
<ellipse cx="743.0" cy="124.7" rx="12.7" ry="3.7" fill="#0a78f8"/>
<ellipse cx="759.2" cy="261.1" rx="10.8" ry="6.6" fill="#0a80ff"/>
<ellipse cx="763.3" cy="342.1" rx="13.0" ry="5.4" fill="#28e0ff"/>
<ellipse cx="773.9" cy="179.5" rx="7.6" ry="6.5" fill="#0a80ff"/>
<ellipse cx="782.8" cy="196.4" rx="8.8" ry="6.0" fill="#18d4ff"/>
<ellipse cx="817.5" cy="93.8" rx="7.7" ry="4.2" fill="#0a78f8"/>
<ellipse cx="743.3" cy="184.5" rx="12.3" ry="5.6" fill="#0a80ff"/>
<ellipse cx="835.9" cy="277.6" rx="9.3" ry="4.0" fill="#38e8ff"/>
<ellipse cx="778.2" cy="273.1" rx="5.9" ry="3.8" fill="#20dcff"/>
<ellipse cx="758.1" cy="120.8" rx="8.5" ry="6.1" fill="#0a78f8"/>
<ellipse cx="785.2" cy="305.1" rx="8.0" ry="5.1" fill="#28e0ff"/>
<ellipse cx="729.6" cy="271.0" rx="8.6" ry="3.5" fill="#38e8ff"/>
<ellipse cx="715.0" cy="237.3" rx="10.6" ry="6.4" fill="#10c8ff"/>
<ellipse cx="765.1" cy="261.0" rx="11.4" ry="6.2" fill="#0a80ff"/>
<ellipse cx="728.8" cy="105.1" rx="6.4" ry="3.1" fill="#0a78f8"/>
<ellipse cx="811.1" cy="99.1" rx="6.6" ry="4.1" fill="#28e0ff"/>
<ellipse cx="779.9" cy="165.9" rx="9.5" ry="3.9" fill="#0a80ff"/>
<ellipse cx="734.9" cy="307.2" rx="7.2" ry="6.0" fill="#20dcff"/>
<ellipse cx="717.8" cy="268.4" rx="12.3" ry="6.1" fill="#20dcff"/>
<ellipse cx="829.1" cy="182.7" rx="12.3" ry="4.6" fill="#10c8ff"/>
<ellipse cx="734.1" cy="268.5" rx="7.6" ry="5.8" fill="#28e0ff"/>
<ellipse cx="806.0" cy="144.8" rx="6.9" ry="5.9" fill="#28e0ff"/>
<ellipse cx="815.0" cy="292.8" rx="9.4" ry="5.3" fill="#10c8ff"/>
<ellipse cx="787.7" cy="214.7" rx="11.3" ry="6.9" fill="#28e0ff"/>
<ellipse cx="748.7" cy="245.6" rx="11.5" ry="3.8" fill="#10c8ff"/>
<ellipse cx="814.7" cy="338.9" rx="8.4" ry="4.3" fill="#0a78f8"/>
<ellipse cx="725.6" cy="100.2" rx="6.3" ry="6.3" fill="#20dcff"/>
<ellipse cx="835.2" cy="213.8" rx="12.9" ry="5.7" fill="#38e8ff"/>
<ellipse cx="767.8" cy="217.1" rx="8.7" ry="4.6" fill="#0a80ff"/>
<ellipse cx="715.1" cy="255.3" rx="6.0" ry="4.1" fill="#10c8ff"/>
<ellipse cx="815.0" cy="271.8" rx="9.2" ry="3.9" fill="#0a78f8"/>
<ellipse cx="753.3" cy="140.4" rx="12.7" ry="5.6" fill="#18d4ff"/>
<ellipse cx="772.4" cy="210.3" rx="11.2" ry="6.6" fill="#20dcff"/>
<ellipse cx="768.7" cy="247.6" rx="10.4" ry="5.9" fill="#10c8ff"/>
<ellipse cx="800.1" cy="261.0" rx="7.6" ry="6.7" fill="#0a78f8"/>
<ellipse cx="750.5" cy="181.2" rx="9.7" ry="5.8" fill="#18d4ff"/>
<ellipse cx="732.4" cy="133.5" rx="12.4" ry="5.9" fill="#18d4ff"/>
<ellipse cx="781.7" cy="101.1" rx="8.0" ry="6.8" fill="#38e8ff"/>
<ellipse cx="805.6" cy="340.5" rx="13.2" ry="3.7" fill="#0a78f8"/>
<ellipse cx="737.9" cy="168.9" rx="10.6" ry="5.7" fill="#28e0ff"/>
<ellipse cx="722.3" cy="87.6" rx="9.6" ry="6.8" fill="#0a80ff"/>
<ellipse cx="825.4" cy="214.4" rx="7.5" ry="5.8" fill="#38e8ff"/>
<ellipse cx="759.8" cy="329.3" rx="9.2" ry="4.7" fill="#10c8ff"/>
<ellipse cx="795.9" cy="257.4" rx="10.8" ry="5.5" fill="#18d4ff"/>
<ellipse cx="735.7" cy="334.6" rx="6.0" ry="6.2" fill="#20dcff"/>
<ellipse cx="800.8" cy="85.0" rx="9.5" ry="3.2" fill="#10c8ff"/>
<ellipse cx="767.6" cy="199.2" rx="13.2" ry="6.8" fill="#0a80ff"/>
<ellipse cx="723.9" cy="161.9" rx="9.2" ry="6.6" fill="#28e0ff"/>
<ellipse cx="732.9" cy="231.3" rx="12.6" ry="4.7" fill="#20dcff"/>
<ellipse cx="718.2" cy="129.7" rx="8.8" ry="5.2" fill="#0a80ff"/>
<ellipse cx="784.4" cy="298.3" rx="10.1" ry="4.9" fill="#20dcff"/>
<ellipse cx="714.2" cy="234.2" rx="6.3" ry="6.6" fill="#38e8ff"/>
<ellipse cx="836.6" cy="254.4" rx="6.9" ry="5.0" fill="#10c8ff"/>
</g>
<g filter="url(#b3)" opacity="0.65">
<ellipse cx="976.4" cy="244.4" rx="9.3" ry="6.2" fill="#18d0ff"/>
<ellipse cx="919.2" cy="120.7" rx="7.9" ry="5.6" fill="#10c0ff"/>
<ellipse cx="1012.2" cy="98.8" rx="6.2" ry="5.0" fill="#0a60f0"/>
<ellipse cx="1004.4" cy="175.5" rx="8.4" ry="3.6" fill="#0870ff"/>
<ellipse cx="962.4" cy="260.4" rx="10.7" ry="3.6" fill="#10c0ff"/>
<ellipse cx="929.3" cy="175.0" rx="7.6" ry="3.8" fill="#0868f8"/>
<ellipse cx="991.7" cy="219.0" rx="6.3" ry="6.3" fill="#0868f8"/>
<ellipse cx="963.3" cy="272.8" rx="10.3" ry="5.5" fill="#0a60f0"/>
<ellipse cx="921.9" cy="268.1" rx="9.5" ry="3.6" fill="#14c8ff"/>
<ellipse cx="955.6" cy="85.0" rx="7.8" ry="3.2" fill="#0a60f0"/>
<ellipse cx="998.0" cy="319.2" rx="9.8" ry="6.6" fill="#18d0ff"/>
<ellipse cx="949.2" cy="329.6" rx="12.8" ry="6.2" fill="#10c0ff"/>
<ellipse cx="1015.1" cy="125.9" rx="7.7" ry="3.1" fill="#0a58f0"/>
<ellipse cx="981.5" cy="122.8" rx="12.8" ry="5.1" fill="#0a58f0"/>
<ellipse cx="926.1" cy="344.5" rx="9.9" ry="6.1" fill="#0a60f0"/>
<ellipse cx="996.7" cy="333.1" rx="12.6" ry="4.0" fill="#0870ff"/>
<ellipse cx="922.5" cy="223.1" rx="11.9" ry="4.4" fill="#0868f8"/>
<ellipse cx="1025.3" cy="321.6" rx="13.0" ry="6.0" fill="#0a60f0"/>
<ellipse cx="993.2" cy="276.6" rx="7.3" ry="5.1" fill="#18d0ff"/>
<ellipse cx="1012.8" cy="216.2" rx="6.6" ry="4.0" fill="#0a58f0"/>
<ellipse cx="977.3" cy="203.1" rx="9.5" ry="3.8" fill="#0868f8"/>
<ellipse cx="931.9" cy="194.0" rx="8.6" ry="5.0" fill="#18d0ff"/>
<ellipse cx="905.1" cy="307.6" rx="7.3" ry="6.2" fill="#18d0ff"/>
<ellipse cx="973.9" cy="292.7" rx="11.3" ry="5.9" fill="#0868f8"/>
<ellipse cx="947.5" cy="184.3" rx="5.7" ry="5.7" fill="#0870ff"/>
<ellipse cx="937.4" cy="300.6" rx="9.2" ry="4.9" fill="#14c8ff"/>
<ellipse cx="992.5" cy="295.3" rx="9.4" ry="3.2" fill="#18d0ff"/>
<ellipse cx="1015.5" cy="115.0" rx="8.2" ry="4.4" fill="#0870ff"/>
<ellipse cx="979.2" cy="238.6" rx="11.0" ry="6.5" fill="#14c8ff"/>
<ellipse cx="913.2" cy="253.8" rx="11.3" ry="4.8" fill="#10c0ff"/>
<ellipse cx="1016.9" cy="132.7" rx="12.1" ry="6.6" fill="#10c0ff"/>
<ellipse cx="994.0" cy="145.9" rx="6.7" ry="6.0" fill="#18d0ff"/>
<ellipse cx="913.1" cy="243.5" rx="10.6" ry="5.1" fill="#0868f8"/>
<ellipse cx="962.7" cy="269.0" rx="7.4" ry="5.7" fill="#18d0ff"/>
<ellipse cx="1016.1" cy="218.5" rx="5.8" ry="6.4" fill="#18d0ff"/>
<ellipse cx="907.3" cy="264.5" rx="8.8" ry="3.5" fill="#0870ff"/>
<ellipse cx="982.5" cy="85.6" rx="11.2" ry="5.4" fill="#0a58f0"/>
<ellipse cx="961.5" cy="222.4" rx="9.9" ry="4.7" fill="#10c0ff"/>
<ellipse cx="980.1" cy="176.9" rx="8.3" ry="6.0" fill="#0a60f0"/>
<ellipse cx="981.6" cy="270.5" rx="10.2" ry="4.8" fill="#0868f8"/>
<ellipse cx="902.5" cy="250.4" rx="9.2" ry="3.9" fill="#0870ff"/>
<ellipse cx="1013.7" cy="278.5" rx="8.3" ry="3.6" fill="#10c0ff"/>
<ellipse cx="1000.7" cy="166.6" rx="8.2" ry="3.9" fill="#10c0ff"/>
<ellipse cx="957.6" cy="133.5" rx="5.8" ry="3.6" fill="#0868f8"/>
<ellipse cx="927.8" cy="109.6" rx="9.8" ry="3.5" fill="#0a58f0"/>
<ellipse cx="915.4" cy="112.8" rx="11.0" ry="3.8" fill="#10c0ff"/>
<ellipse cx="910.7" cy="144.3" rx="10.3" ry="3.4" fill="#0868f8"/>
<ellipse cx="954.4" cy="289.0" rx="12.8" ry="5.8" fill="#14c8ff"/>
<ellipse cx="901.1" cy="160.2" rx="8.1" ry="6.7" fill="#18d0ff"/>
<ellipse cx="1011.4" cy="190.7" rx="10.1" ry="3.2" fill="#0a58f0"/>
<ellipse cx="997.2" cy="233.6" rx="7.1" ry="6.7" fill="#10c0ff"/>
<ellipse cx="998.2" cy="148.1" rx="9.3" ry="4.0" fill="#14c8ff"/>
<ellipse cx="920.7" cy="170.3" rx="10.7" ry="5.6" fill="#0a58f0"/>
<ellipse cx="1015.5" cy="157.7" rx="6.6" ry="5.3" fill="#0a58f0"/>
<ellipse cx="940.9" cy="290.1" rx="11.4" ry="3.6" fill="#18d0ff"/>
<ellipse cx="949.2" cy="151.5" rx="10.8" ry="6.6" fill="#10c0ff"/>
<ellipse cx="947.1" cy="309.3" rx="8.9" ry="5.8" fill="#0a60f0"/>
<ellipse cx="1022.5" cy="137.8" rx="12.4" ry="5.9" fill="#10c0ff"/>
<ellipse cx="962.3" cy="160.7" rx="8.2" ry="3.7" fill="#10c0ff"/>
<ellipse cx="953.6" cy="133.1" rx="5.9" ry="3.9" fill="#14c8ff"/>
<ellipse cx="1021.4" cy="83.5" rx="11.6" ry="6.4" fill="#0a58f0"/>
<ellipse cx="931.3" cy="174.0" rx="12.1" ry="3.8" fill="#0a60f0"/>
<ellipse cx="974.9" cy="300.4" rx="11.0" ry="4.9" fill="#18d0ff"/>
<ellipse cx="946.4" cy="319.2" rx="10.7" ry="4.2" fill="#14c8ff"/>
<ellipse cx="997.3" cy="259.1" rx="13.0" ry="6.5" fill="#0868f8"/>
<ellipse cx="990.6" cy="160.6" rx="10.0" ry="6.3" fill="#14c8ff"/>
<ellipse cx="921.1" cy="184.8" rx="10.5" ry="4.1" fill="#18d0ff"/>
<ellipse cx="926.7" cy="340.9" rx="11.5" ry="3.9" fill="#10c0ff"/>
<ellipse cx="1009.9" cy="316.8" rx="12.0" ry="6.9" fill="#0a58f0"/>
<ellipse cx="982.0" cy="256.4" rx="7.3" ry="3.7" fill="#0a58f0"/>
</g>
<ellipse cx="735" cy="332" rx="24" ry="12" fill="#20e0ff" opacity="0.7" filter="url(#b5)"/>
<ellipse cx="745" cy="255" rx="30" ry="14" fill="#18d4ff" opacity="0.6" filter="url(#b5)"/>
<ellipse cx="985" cy="98" rx="34" ry="10" fill="#0848f0" opacity="0.7" filter="url(#b5)"/>
<ellipse cx="930" cy="90" rx="20" ry="8" fill="#0858f8" opacity="0.7" filter="url(#b5)"/>
<polygon points="835,70 893,70 907,355 829,355" fill="#20f0ff" filter="url(#b5)"/>
<polygon points="846,70 882,70 894,355 841,355" fill="#48ffe0" filter="url(#b3)"/>
<polygon points="852,84 876,84 887,355 848,355" fill="#50ffb0" opacity="0.85" filter="url(#b3)"/>
<g filter="url(#b3)" opacity="0.6">
<ellipse cx="864.2" cy="327.1" rx="6.4" ry="4.6" fill="#60ff60"/>
<ellipse cx="856.4" cy="96.0" rx="3.9" ry="4.4" fill="#58ff68"/>
<ellipse cx="853.6" cy="254.2" rx="4.0" ry="4.5" fill="#20ffc0"/>
<ellipse cx="872.9" cy="313.1" rx="4.6" ry="5.3" fill="#60ff60"/>
<ellipse cx="860.9" cy="96.4" rx="5.1" ry="5.4" fill="#20ffc0"/>
<ellipse cx="866.8" cy="321.9" rx="6.8" ry="3.8" fill="#20ffc0"/>
<ellipse cx="856.3" cy="181.3" rx="7.0" ry="4.1" fill="#40ff70"/>
<ellipse cx="878.2" cy="164.7" rx="6.4" ry="3.0" fill="#20ffc0"/>
<ellipse cx="853.4" cy="292.3" rx="6.1" ry="4.5" fill="#60ff60"/>
<ellipse cx="877.7" cy="138.4" rx="5.7" ry="4.7" fill="#40ff70"/>
<ellipse cx="879.1" cy="250.4" rx="4.2" ry="5.3" fill="#60ff60"/>
<ellipse cx="857.6" cy="278.0" rx="5.1" ry="4.0" fill="#58ff68"/>
<ellipse cx="864.3" cy="293.7" rx="4.7" ry="5.8" fill="#60ff60"/>
<ellipse cx="859.8" cy="175.3" rx="4.7" ry="4.3" fill="#40ff70"/>
<ellipse cx="883.9" cy="115.9" rx="7.1" ry="5.8" fill="#58ff68"/>
<ellipse cx="874.8" cy="328.4" rx="4.3" ry="5.2" fill="#58ff68"/>
<ellipse cx="883.4" cy="315.1" rx="6.9" ry="3.3" fill="#58ff68"/>
<ellipse cx="880.9" cy="328.2" rx="6.5" ry="5.7" fill="#60ff60"/>
</g>
<ellipse cx="872" cy="132" rx="10" ry="9" fill="#50ff60" opacity="0.7" filter="url(#b3)"/>
<ellipse cx="874" cy="328" rx="12" ry="6" fill="#50ff60" opacity="0.7" filter="url(#b3)"/>
<ellipse cx="1000" cy="278" rx="36" ry="20" fill="#0838e8" opacity="0.85" filter="url(#b8)"/>
<ellipse cx="1004" cy="274" rx="28" ry="10" fill="#0414b0" filter="url(#b5)"/>
<ellipse cx="1000" cy="258" rx="18" ry="5" fill="#0420c8" opacity="0.8" filter="url(#b3)"/>
<ellipse cx="1014" cy="320" rx="9" ry="11" fill="#0428e0" opacity="0.9" filter="url(#b5)"/>
<ellipse cx="902" cy="262" rx="7" ry="5" fill="#0430e0" opacity="0.9" filter="url(#b3)"/>
<ellipse cx="935" cy="237" rx="9" ry="4" fill="#0840e8" opacity="0.8" filter="url(#b3)"/>
<path d="M981.5,277.3 Q986,271.5 996,269.4 L1012,269 Q1022,270.5 1029,276 L1029,281.5 Q1020,286 1008,286.6 L996,285.6 Q986,283 981.5,277.3 Z" fill="#000"/>
<rect x="709" y="76" width="30" height="2.2" fill="#0030d0" filter="url(#b07)"/>
</g>
<line x1="709.30" y1="121.80" x2="1028.00" y2="121.80" stroke="#0808ff" stroke-width="1.5" />
<line x1="709.30" y1="143.80" x2="1028.00" y2="143.80" stroke="#0808ff" stroke-width="1.5" />
<line x1="709.30" y1="121.80" x2="709.30" y2="143.80" stroke="#0808ff" stroke-width="1.5" />
<line x1="868.50" y1="77.00" x2="868.50" y2="316.00" stroke="#000" stroke-width="3.4" stroke-dasharray="3.5 3"/>
<polygon points="858.2,314.6 879.6,314.6 868.9,346.5" fill="#000"/>
<line x1="820.70" y1="225.60" x2="856.00" y2="240.80" stroke="#000" stroke-width="2.6" />
<polygon points="866.9,245.5 849,243.6 854.2,234.6" fill="#000"/>
<text transform="translate(740.50,188.80) scale(1.1,1)" font-size="20.4" text-anchor="start" fill="#000">Scan</text>
<text transform="translate(740.50,215.00) scale(1.1,1)" font-size="20.4" text-anchor="start" fill="#000">direction</text>
<line x1="708.70" y1="76.00" x2="1028.60" y2="76.00" stroke="#111" stroke-width="2.0" />
<line x1="709.30" y1="76.00" x2="709.30" y2="347.30" stroke="#111" stroke-width="1.7" />
<line x1="1028.00" y1="76.00" x2="1028.00" y2="347.30" stroke="#111" stroke-width="1.7" />
<line x1="708.50" y1="347.30" x2="1028.80" y2="347.30" stroke="#111" stroke-width="1.8" />
<line x1="709.30" y1="72.00" x2="709.30" y2="76.00" stroke="#1a1a1a" stroke-width="1.7" />
<line x1="709.30" y1="347.30" x2="709.30" y2="351.30" stroke="#1a1a1a" stroke-width="1.7" />
<text x="709.30" y="69.60" font-size="17" text-anchor="middle" font-weight="normal" fill="#1a1a1a" >0</text>
<line x1="749.14" y1="73.70" x2="749.14" y2="76.00" stroke="#1a1a1a" stroke-width="1.4" />
<line x1="749.14" y1="347.30" x2="749.14" y2="349.60" stroke="#1a1a1a" stroke-width="1.4" />
<line x1="788.97" y1="72.00" x2="788.97" y2="76.00" stroke="#1a1a1a" stroke-width="1.7" />
<line x1="788.97" y1="347.30" x2="788.97" y2="351.30" stroke="#1a1a1a" stroke-width="1.7" />
<text x="788.97" y="69.60" font-size="17" text-anchor="middle" font-weight="normal" fill="#1a1a1a" >1</text>
<line x1="828.81" y1="73.70" x2="828.81" y2="76.00" stroke="#1a1a1a" stroke-width="1.4" />
<line x1="828.81" y1="347.30" x2="828.81" y2="349.60" stroke="#1a1a1a" stroke-width="1.4" />
<line x1="868.65" y1="72.00" x2="868.65" y2="76.00" stroke="#1a1a1a" stroke-width="1.7" />
<line x1="868.65" y1="347.30" x2="868.65" y2="351.30" stroke="#1a1a1a" stroke-width="1.7" />
<text x="868.65" y="69.60" font-size="17" text-anchor="middle" font-weight="normal" fill="#1a1a1a" >2</text>
<line x1="908.49" y1="73.70" x2="908.49" y2="76.00" stroke="#1a1a1a" stroke-width="1.4" />
<line x1="908.49" y1="347.30" x2="908.49" y2="349.60" stroke="#1a1a1a" stroke-width="1.4" />
<line x1="948.33" y1="72.00" x2="948.33" y2="76.00" stroke="#1a1a1a" stroke-width="1.7" />
<line x1="948.33" y1="347.30" x2="948.33" y2="351.30" stroke="#1a1a1a" stroke-width="1.7" />
<text x="948.33" y="69.60" font-size="17" text-anchor="middle" font-weight="normal" fill="#1a1a1a" >3</text>
<line x1="988.16" y1="73.70" x2="988.16" y2="76.00" stroke="#1a1a1a" stroke-width="1.4" />
<line x1="988.16" y1="347.30" x2="988.16" y2="349.60" stroke="#1a1a1a" stroke-width="1.4" />
<line x1="1028.00" y1="72.00" x2="1028.00" y2="76.00" stroke="#1a1a1a" stroke-width="1.7" />
<line x1="1028.00" y1="347.30" x2="1028.00" y2="351.30" stroke="#1a1a1a" stroke-width="1.7" />
<text x="1028.00" y="69.60" font-size="17" text-anchor="middle" font-weight="normal" fill="#1a1a1a" >4</text>
<line x1="705.10" y1="76.00" x2="709.30" y2="76.00" stroke="#1a1a1a" stroke-width="1.7" />
<line x1="1028.00" y1="76.00" x2="1032.00" y2="76.00" stroke="#1a1a1a" stroke-width="1.7" />
<text x="702.50" y="81.30" font-size="17" text-anchor="end" font-weight="normal" fill="#1a1a1a" >16</text>
<line x1="707.00" y1="98.61" x2="709.30" y2="98.61" stroke="#1a1a1a" stroke-width="1.4" />
<line x1="1028.00" y1="98.61" x2="1030.30" y2="98.61" stroke="#1a1a1a" stroke-width="1.4" />
<line x1="705.10" y1="121.22" x2="709.30" y2="121.22" stroke="#1a1a1a" stroke-width="1.7" />
<line x1="1028.00" y1="121.22" x2="1032.00" y2="121.22" stroke="#1a1a1a" stroke-width="1.7" />
<text x="702.50" y="126.52" font-size="17" text-anchor="end" font-weight="normal" fill="#1a1a1a" >14</text>
<line x1="707.00" y1="143.82" x2="709.30" y2="143.82" stroke="#1a1a1a" stroke-width="1.4" />
<line x1="1028.00" y1="143.82" x2="1030.30" y2="143.82" stroke="#1a1a1a" stroke-width="1.4" />
<line x1="705.10" y1="166.43" x2="709.30" y2="166.43" stroke="#1a1a1a" stroke-width="1.7" />
<line x1="1028.00" y1="166.43" x2="1032.00" y2="166.43" stroke="#1a1a1a" stroke-width="1.7" />
<text x="702.50" y="171.73" font-size="17" text-anchor="end" font-weight="normal" fill="#1a1a1a" >12</text>
<line x1="707.00" y1="189.04" x2="709.30" y2="189.04" stroke="#1a1a1a" stroke-width="1.4" />
<line x1="1028.00" y1="189.04" x2="1030.30" y2="189.04" stroke="#1a1a1a" stroke-width="1.4" />
<line x1="705.10" y1="211.65" x2="709.30" y2="211.65" stroke="#1a1a1a" stroke-width="1.7" />
<line x1="1028.00" y1="211.65" x2="1032.00" y2="211.65" stroke="#1a1a1a" stroke-width="1.7" />
<text x="702.50" y="216.95" font-size="17" text-anchor="end" font-weight="normal" fill="#1a1a1a" >10</text>
<line x1="707.00" y1="234.26" x2="709.30" y2="234.26" stroke="#1a1a1a" stroke-width="1.4" />
<line x1="1028.00" y1="234.26" x2="1030.30" y2="234.26" stroke="#1a1a1a" stroke-width="1.4" />
<line x1="705.10" y1="256.87" x2="709.30" y2="256.87" stroke="#1a1a1a" stroke-width="1.7" />
<line x1="1028.00" y1="256.87" x2="1032.00" y2="256.87" stroke="#1a1a1a" stroke-width="1.7" />
<text x="702.50" y="262.17" font-size="17" text-anchor="end" font-weight="normal" fill="#1a1a1a" >8</text>
<line x1="707.00" y1="279.48" x2="709.30" y2="279.48" stroke="#1a1a1a" stroke-width="1.4" />
<line x1="1028.00" y1="279.48" x2="1030.30" y2="279.48" stroke="#1a1a1a" stroke-width="1.4" />
<line x1="705.10" y1="302.08" x2="709.30" y2="302.08" stroke="#1a1a1a" stroke-width="1.7" />
<line x1="1028.00" y1="302.08" x2="1032.00" y2="302.08" stroke="#1a1a1a" stroke-width="1.7" />
<text x="702.50" y="307.38" font-size="17" text-anchor="end" font-weight="normal" fill="#1a1a1a" >6</text>
<line x1="707.00" y1="324.69" x2="709.30" y2="324.69" stroke="#1a1a1a" stroke-width="1.4" />
<line x1="1028.00" y1="324.69" x2="1030.30" y2="324.69" stroke="#1a1a1a" stroke-width="1.4" />
<line x1="705.10" y1="347.30" x2="709.30" y2="347.30" stroke="#1a1a1a" stroke-width="1.7" />
<line x1="1028.00" y1="347.30" x2="1032.00" y2="347.30" stroke="#1a1a1a" stroke-width="1.7" />
<text x="702.50" y="352.60" font-size="17" text-anchor="end" font-weight="normal" fill="#1a1a1a" >4</text>
<text x="868.30" y="40.00" font-size="20" text-anchor="middle" font-weight="normal" fill="#1a1a1a" >X position (mm)</text>
<text transform="translate(677.30,211.60) rotate(-90)" font-size="20.4" text-anchor="middle" fill="#1a1a1a">Z position (mm)</text>
<line x1="710.40" y1="415.80" x2="866.50" y2="415.80" stroke="#000" stroke-width="1.8" stroke-dasharray="1.2 0.8 1.2 0.8 1.2 0.8 1.2 0.8 1.2 2.2"/>
<line x1="787.00" y1="517.30" x2="957.00" y2="517.30" stroke="#444" stroke-width="0.8" stroke-dasharray="1 1"/>
<line x1="829.20" y1="503.00" x2="829.20" y2="538.00" stroke="#444" stroke-width="0.8" stroke-dasharray="1 1"/>
<line x1="918.00" y1="503.00" x2="918.00" y2="538.00" stroke="#444" stroke-width="0.8" stroke-dasharray="1 1"/>
<line x1="825.50" y1="527.00" x2="834.00" y2="490.00" stroke="#555" stroke-width="0.7" stroke-dasharray="1 1"/>
<line x1="920.50" y1="522.00" x2="910.00" y2="490.00" stroke="#555" stroke-width="0.7" stroke-dasharray="1 1"/>
<g clip-path="url(#clipF)">
<polyline fill="none" stroke="#000" stroke-width="2.8" stroke-linejoin="round" points="710.4,504.2 726.3,508.2 742.1,511.8 758.0,511.0 773.9,505.6 789.8,503.7 805.6,523.2 821.5,499.0 837.4,492.4 853.2,450.3 869.1,422.4 885.0,422.4 900.8,479.7 916.7,497.4 932.6,526.0 948.4,526.2 964.3,526.8 980.2,534.8 996.1,522.8 1011.9,522.6 1027.8,522.0"/>
<polyline fill="none" stroke="#f80000" stroke-width="2.9" points="710.4,517.3 711.2,517.3 712.0,517.3 712.8,517.3 713.6,517.3 714.4,517.3 715.2,517.3 716.0,517.3 716.7,517.3 717.5,517.3 718.3,517.3 719.1,517.3 719.9,517.3 720.7,517.3 721.5,517.3 722.3,517.3 723.1,517.3 723.9,517.3 724.7,517.3 725.5,517.3 726.3,517.3 727.1,517.3 727.9,517.3 728.7,517.3 729.4,517.3 730.2,517.3 731.0,517.3 731.8,517.3 732.6,517.3 733.4,517.3 734.2,517.3 735.0,517.3 735.8,517.3 736.6,517.3 737.4,517.3 738.2,517.3 739.0,517.3 739.8,517.3 740.6,517.3 741.3,517.3 742.1,517.3 742.9,517.3 743.7,517.3 744.5,517.3 745.3,517.3 746.1,517.3 746.9,517.3 747.7,517.3 748.5,517.3 749.3,517.3 750.1,517.3 750.9,517.3 751.7,517.3 752.5,517.3 753.2,517.3 754.0,517.3 754.8,517.3 755.6,517.3 756.4,517.3 757.2,517.3 758.0,517.3 758.8,517.3 759.6,517.3 760.4,517.3 761.2,517.3 762.0,517.3 762.8,517.3 763.6,517.3 764.4,517.3 765.2,517.3 765.9,517.3 766.7,517.3 767.5,517.3 768.3,517.3 769.1,517.3 769.9,517.3 770.7,517.3 771.5,517.3 772.3,517.3 773.1,517.3 773.9,517.3 774.7,517.3 775.5,517.3 776.3,517.3 777.1,517.3 777.8,517.3 778.6,517.3 779.4,517.3 780.2,517.3 781.0,517.3 781.8,517.3 782.6,517.3 783.4,517.3 784.2,517.3 785.0,517.3 785.8,517.3 786.6,517.3 787.4,517.3 788.2,517.3 789.0,517.3 789.8,517.3 790.5,517.3 791.3,517.3 792.1,517.2 792.9,517.2 793.7,517.2 794.5,517.2 795.3,517.2 796.1,517.2 796.9,517.2 797.7,517.2 798.5,517.1 799.3,517.1 800.1,517.1 800.9,517.1 801.7,517.0 802.4,517.0 803.2,516.9 804.0,516.9 804.8,516.8 805.6,516.8 806.4,516.7 807.2,516.6 808.0,516.5 808.8,516.4 809.6,516.3 810.4,516.2 811.2,516.1 812.0,515.9 812.8,515.8 813.6,515.6 814.3,515.4 815.1,515.2 815.9,515.0 816.7,514.7 817.5,514.4 818.3,514.1 819.1,513.8 819.9,513.4 820.7,513.0 821.5,512.6 822.3,512.2 823.1,511.7 823.9,511.1 824.7,510.5 825.5,509.9 826.3,509.3 827.0,508.5 827.8,507.8 828.6,507.0 829.4,506.1 830.2,505.2 831.0,504.2 831.8,503.1 832.6,502.0 833.4,500.9 834.2,499.6 835.0,498.3 835.8,497.0 836.6,495.6 837.4,494.1 838.2,492.5 838.9,490.9 839.7,489.2 840.5,487.5 841.3,485.7 842.1,483.8 842.9,481.8 843.7,479.9 844.5,477.8 845.3,475.7 846.1,473.6 846.9,471.4 847.7,469.2 848.5,466.9 849.3,464.6 850.1,462.3 850.8,460.0 851.6,457.6 852.4,455.3 853.2,452.9 854.0,450.6 854.8,448.3 855.6,446.0 856.4,443.7 857.2,441.5 858.0,439.3 858.8,437.1 859.6,435.1 860.4,433.1 861.2,431.1 862.0,429.3 862.8,427.6 863.5,425.9 864.3,424.4 865.1,422.9 865.9,421.6 866.7,420.4 867.5,419.4 868.3,418.4 869.1,417.6 869.9,417.0 870.7,416.5 871.5,416.1 872.3,415.9 873.1,415.8 873.9,415.9 874.7,416.1 875.4,416.5 876.2,417.0 877.0,417.6 877.8,418.4 878.6,419.4 879.4,420.4 880.2,421.6 881.0,422.9 881.8,424.4 882.6,425.9 883.4,427.6 884.2,429.3 885.0,431.1 885.8,433.1 886.6,435.1 887.4,437.1 888.1,439.3 888.9,441.5 889.7,443.7 890.5,446.0 891.3,448.3 892.1,450.6 892.9,452.9 893.7,455.3 894.5,457.6 895.3,460.0 896.1,462.3 896.9,464.6 897.7,466.9 898.5,469.2 899.3,471.4 900.0,473.6 900.8,475.7 901.6,477.8 902.4,479.9 903.2,481.8 904.0,483.8 904.8,485.7 905.6,487.5 906.4,489.2 907.2,490.9 908.0,492.5 908.8,494.1 909.6,495.6 910.4,497.0 911.2,498.3 911.9,499.6 912.7,500.9 913.5,502.0 914.3,503.1 915.1,504.2 915.9,505.2 916.7,506.1 917.5,507.0 918.3,507.8 919.1,508.5 919.9,509.3 920.7,509.9 921.5,510.5 922.3,511.1 923.1,511.7 923.9,512.2 924.6,512.6 925.4,513.0 926.2,513.4 927.0,513.8 927.8,514.1 928.6,514.4 929.4,514.7 930.2,515.0 931.0,515.2 931.8,515.4 932.6,515.6 933.4,515.8 934.2,515.9 935.0,516.1 935.8,516.2 936.5,516.3 937.3,516.4 938.1,516.5 938.9,516.6 939.7,516.7 940.5,516.8 941.3,516.8 942.1,516.9 942.9,516.9 943.7,517.0 944.5,517.0 945.3,517.1 946.1,517.1 946.9,517.1 947.7,517.1 948.4,517.2 949.2,517.2 950.0,517.2 950.8,517.2 951.6,517.2 952.4,517.2 953.2,517.2 954.0,517.2 954.8,517.3 955.6,517.3 956.4,517.3 957.2,517.3 958.0,517.3 958.8,517.3 959.6,517.3 960.4,517.3 961.1,517.3 961.9,517.3 962.7,517.3 963.5,517.3 964.3,517.3 965.1,517.3 965.9,517.3 966.7,517.3 967.5,517.3 968.3,517.3 969.1,517.3 969.9,517.3 970.7,517.3 971.5,517.3 972.3,517.3 973.0,517.3 973.8,517.3 974.6,517.3 975.4,517.3 976.2,517.3 977.0,517.3 977.8,517.3 978.6,517.3 979.4,517.3 980.2,517.3 981.0,517.3 981.8,517.3 982.6,517.3 983.4,517.3 984.2,517.3 985.0,517.3 985.7,517.3 986.5,517.3 987.3,517.3 988.1,517.3 988.9,517.3 989.7,517.3 990.5,517.3 991.3,517.3 992.1,517.3 992.9,517.3 993.7,517.3 994.5,517.3 995.3,517.3 996.1,517.3 996.9,517.3 997.6,517.3 998.4,517.3 999.2,517.3 1000.0,517.3 1000.8,517.3 1001.6,517.3 1002.4,517.3 1003.2,517.3 1004.0,517.3 1004.8,517.3 1005.6,517.3 1006.4,517.3 1007.2,517.3 1008.0,517.3 1008.8,517.3 1009.5,517.3 1010.3,517.3 1011.1,517.3 1011.9,517.3 1012.7,517.3 1013.5,517.3 1014.3,517.3 1015.1,517.3 1015.9,517.3 1016.7,517.3 1017.5,517.3 1018.3,517.3 1019.1,517.3 1019.9,517.3 1020.7,517.3 1021.5,517.3 1022.2,517.3 1023.0,517.3 1023.8,517.3 1024.6,517.3 1025.4,517.3 1026.2,517.3 1027.0,517.3 1027.8,517.3"/>
</g>
<line x1="814.70" y1="466.90" x2="838.00" y2="466.90" stroke="#0000ff" stroke-width="2.0" />
<polygon points="846,466.9 833,462.7 833,471.09999999999997" fill="#0000ff"/>
<line x1="933.50" y1="466.90" x2="904.60" y2="466.90" stroke="#0000ff" stroke-width="2.0" />
<polygon points="896.6,466.9 909.6,462.7 909.6,471.09999999999997" fill="#0000ff"/>
<line x1="847.00" y1="466.90" x2="896.00" y2="466.90" stroke="#0000ff" stroke-width="2.2" stroke-dasharray="7 2.5 2 2.5 2 2.5"/>
<line x1="795.00" y1="537.90" x2="821.20" y2="537.90" stroke="#0000ff" stroke-width="2.0" />
<polygon points="829.2,537.9 816.2,533.6999999999999 816.2,542.1" fill="#0000ff"/>
<line x1="952.60" y1="537.90" x2="926.00" y2="537.90" stroke="#0000ff" stroke-width="2.0" />
<polygon points="918,537.9 931,533.6999999999999 931,542.1" fill="#0000ff"/>
<line x1="830.00" y1="537.90" x2="917.50" y2="537.90" stroke="#0000ff" stroke-width="2.2" stroke-dasharray="7 2.5 2 2.5 2 2.5"/>
<text transform="translate(758.00,461.40) scale(1.07,1)" font-size="17.3" text-anchor="start" fill="#111">0.55 mm</text>
<text transform="translate(722.00,541.20) scale(1.03,1)" font-size="17.3" text-anchor="start" fill="#111">1.12 mm</text>
<rect x="907.2" y="403.6" width="118.8" height="39.4" fill="none" stroke="#000" stroke-width="1"/>
<rect x="906.3" y="402.8" width="118.8" height="39.4" fill="#fff" stroke="#000" stroke-width="1.1"/>
<line x1="905.50" y1="412.20" x2="944.50" y2="412.20" stroke="#000" stroke-width="3" />
<line x1="905.50" y1="433.00" x2="944.50" y2="433.00" stroke="#f80000" stroke-width="3" />
<text x="948.00" y="417.30" font-size="16.3" text-anchor="start" font-weight="normal" fill="#000" >Data</text>
<text x="948.00" y="437.60" font-size="16.3" text-anchor="start" font-weight="normal" fill="#f80000" >Simulation</text>
<rect x="710.4" y="400.0" width="317.40" height="151.20" fill="none" stroke="#222" stroke-width="1.2"/>
<line x1="709.80" y1="400.00" x2="1028.40" y2="400.00" stroke="#111" stroke-width="1.9" />
<line x1="709.80" y1="551.20" x2="1028.40" y2="551.20" stroke="#111" stroke-width="1.9" />
<line x1="710.40" y1="396.00" x2="710.40" y2="400.00" stroke="#1a1a1a" stroke-width="1.7" />
<line x1="710.40" y1="551.20" x2="710.40" y2="555.20" stroke="#1a1a1a" stroke-width="1.7" />
<text x="710.40" y="570.70" font-size="17" text-anchor="middle" font-weight="normal" fill="#1a1a1a" >0</text>
<line x1="750.07" y1="397.70" x2="750.07" y2="400.00" stroke="#1a1a1a" stroke-width="1.4" />
<line x1="750.07" y1="551.20" x2="750.07" y2="553.50" stroke="#1a1a1a" stroke-width="1.4" />
<line x1="789.75" y1="396.00" x2="789.75" y2="400.00" stroke="#1a1a1a" stroke-width="1.7" />
<line x1="789.75" y1="551.20" x2="789.75" y2="555.20" stroke="#1a1a1a" stroke-width="1.7" />
<text x="789.75" y="570.70" font-size="17" text-anchor="middle" font-weight="normal" fill="#1a1a1a" >1</text>
<line x1="829.42" y1="397.70" x2="829.42" y2="400.00" stroke="#1a1a1a" stroke-width="1.4" />
<line x1="829.42" y1="551.20" x2="829.42" y2="553.50" stroke="#1a1a1a" stroke-width="1.4" />
<line x1="869.10" y1="396.00" x2="869.10" y2="400.00" stroke="#1a1a1a" stroke-width="1.7" />
<line x1="869.10" y1="551.20" x2="869.10" y2="555.20" stroke="#1a1a1a" stroke-width="1.7" />
<text x="869.10" y="570.70" font-size="17" text-anchor="middle" font-weight="normal" fill="#1a1a1a" >2</text>
<line x1="908.77" y1="397.70" x2="908.77" y2="400.00" stroke="#1a1a1a" stroke-width="1.4" />
<line x1="908.77" y1="551.20" x2="908.77" y2="553.50" stroke="#1a1a1a" stroke-width="1.4" />
<line x1="948.45" y1="396.00" x2="948.45" y2="400.00" stroke="#1a1a1a" stroke-width="1.7" />
<line x1="948.45" y1="551.20" x2="948.45" y2="555.20" stroke="#1a1a1a" stroke-width="1.7" />
<text x="948.45" y="570.70" font-size="17" text-anchor="middle" font-weight="normal" fill="#1a1a1a" >3</text>
<line x1="988.12" y1="397.70" x2="988.12" y2="400.00" stroke="#1a1a1a" stroke-width="1.4" />
<line x1="988.12" y1="551.20" x2="988.12" y2="553.50" stroke="#1a1a1a" stroke-width="1.4" />
<line x1="1027.80" y1="396.00" x2="1027.80" y2="400.00" stroke="#1a1a1a" stroke-width="1.7" />
<line x1="1027.80" y1="551.20" x2="1027.80" y2="555.20" stroke="#1a1a1a" stroke-width="1.7" />
<text x="1027.80" y="570.70" font-size="17" text-anchor="middle" font-weight="normal" fill="#1a1a1a" >4</text>
<line x1="706.20" y1="517.30" x2="710.40" y2="517.30" stroke="#1a1a1a" stroke-width="1.7" />
<text x="700.40" y="522.50" font-size="17" text-anchor="end" font-weight="normal" fill="#1a1a1a" >0</text>
<line x1="706.20" y1="415.80" x2="710.40" y2="415.80" stroke="#1a1a1a" stroke-width="1.7" />
<text x="700.40" y="421.00" font-size="17" text-anchor="end" font-weight="normal" fill="#1a1a1a" >1</text>
<line x1="707.40" y1="466.55" x2="710.40" y2="466.55" stroke="#1a1a1a" stroke-width="1.4" />
<text x="869.60" y="601.00" font-size="20" text-anchor="middle" font-weight="normal" fill="#1a1a1a" >X position (mm)</text>
<text transform="translate(676.30,476.00) rotate(-90)" font-size="20.4" text-anchor="middle" fill="#1a1a1a">Intensity (arb. unit)</text>
<g clip-path="url(#clipG)">
<rect x="1150" y="70" width="335" height="285" fill="#fe0000"/>
<rect x="1150" y="91.4" width="313" height="262" fill="#ff3200"/>
<g filter="url(#b3)">
<polygon points="1140,93.0 1454.6,93.0 1458.6,97.0 1458.6,99.3 1458.4,105.7 1458.2,112.0 1458.1,118.4 1458.2,124.8 1458.3,131.1 1458.4,137.4 1458.6,143.8 1458.6,150.2 1458.4,156.5 1458.1,162.8 1457.7,169.2 1457.4,175.6 1457.2,181.9 1457.2,188.2 1457.4,194.6 1457.8,200.9 1458.1,207.3 1458.4,213.7 1458.5,220.0 1458.6,226.3 1458.5,232.7 1458.4,239.1 1458.4,245.4 1458.5,251.8 1458.8,258.1 1459.1,264.4 1459.3,270.8 1459.5,277.1 1459.4,283.5 1459.2,289.9 1458.9,296.2 1458.5,302.6 1458.3,308.9 1458.2,315.2 1458.3,321.6 1458.5,327.9 1458.7,334.3 1459.0,340.6 1459.1,343.0 1455.1,347.0 1140,347.0" fill="#ff7000"/>
</g>
<g filter="url(#b15)">
<polygon points="1140,93.0 1449.1,93.0 1453.1,97.0 1452.9,99.3 1452.7,105.6 1452.4,111.9 1452.2,118.2 1452.3,124.5 1452.5,130.8 1452.7,137.1 1452.9,143.4 1452.9,149.7 1452.7,156.0 1452.2,162.3 1451.6,168.6 1451.1,174.9 1450.7,181.2 1450.7,187.5 1451.0,193.8 1451.5,200.1 1452.1,206.4 1452.6,212.7 1452.9,219.0 1452.9,225.3 1452.8,231.6 1452.7,237.9 1452.7,244.2 1452.9,250.5 1453.2,256.8 1453.7,263.1 1454.1,269.4 1454.4,275.7 1454.4,282.0 1454.1,288.3 1453.6,294.6 1453.0,300.9 1452.5,307.2 1452.3,313.5 1452.4,319.8 1452.7,326.1 1453.1,332.4 1453.5,338.7 1453.8,341.0 1449.8,345.0 1140,345.0" fill="#ffa800"/>
<polygon points="1140,94.2 1443.1,94.2 1447.1,98.2 1446.9,100.4 1446.6,106.6 1446.4,112.8 1446.2,119.0 1446.3,125.2 1446.5,131.5 1446.8,137.7 1446.9,143.9 1446.9,150.1 1446.7,156.3 1446.2,162.5 1445.6,168.7 1445.1,174.9 1444.7,181.1 1444.7,187.4 1445.0,193.6 1445.5,199.8 1446.1,206.0 1446.6,212.2 1446.9,218.4 1446.9,224.6 1446.9,230.8 1446.7,237.0 1446.7,243.2 1446.8,249.5 1447.1,255.7 1447.6,261.9 1448.1,268.1 1448.4,274.3 1448.4,280.5 1448.2,286.7 1447.7,292.9 1447.2,299.1 1446.7,305.3 1446.3,311.6 1446.3,317.8 1446.5,324.0 1447.0,330.2 1447.4,336.4 1447.7,338.6 1443.7,342.6 1140,342.6" fill="#f4f000"/>
<polygon points="1140,96.4 1438.6,96.4 1442.6,100.4 1442.4,102.5 1442.1,108.6 1441.9,114.7 1441.8,120.8 1441.9,126.9 1442.2,133.0 1442.4,139.1 1442.6,145.2 1442.5,151.3 1442.2,157.4 1441.7,163.5 1441.1,169.6 1440.6,175.7 1440.3,181.8 1440.3,187.9 1440.6,194.0 1441.1,200.1 1441.7,206.2 1442.2,212.3 1442.5,218.4 1442.5,224.5 1442.5,230.6 1442.3,236.7 1442.3,242.8 1442.4,248.9 1442.7,255.0 1443.1,261.1 1443.6,267.2 1443.9,273.3 1444.1,279.4 1443.9,285.5 1443.5,291.6 1442.9,297.7 1442.4,303.8 1442.0,309.9 1441.9,316.0 1442.0,322.1 1442.4,328.2 1442.8,334.3 1443.2,336.4 1439.2,340.4 1140,340.4" fill="#20f020"/>
<polygon points="1140,99.4 1434.9,99.4 1438.9,103.4 1438.7,105.4 1438.4,111.4 1438.2,117.3 1438.2,123.3 1438.4,129.3 1438.7,135.2 1438.9,141.2 1439.0,147.2 1438.8,153.2 1438.5,159.1 1437.9,165.1 1437.4,171.1 1436.9,177.1 1436.7,183.1 1436.8,189.0 1437.1,195.0 1437.6,201.0 1438.2,206.9 1438.6,212.9 1438.9,218.9 1438.9,224.9 1438.9,230.8 1438.7,236.8 1438.7,242.8 1438.8,248.8 1439.1,254.7 1439.5,260.7 1440.0,266.7 1440.3,272.7 1440.5,278.6 1440.3,284.6 1439.9,290.6 1439.4,296.6 1438.9,302.5 1438.5,308.5 1438.3,314.5 1438.4,320.5 1438.7,326.4 1439.1,332.4 1439.5,334.4 1435.5,338.4 1140,338.4" fill="#00e4ff"/>
<polygon points="1140,103.2 1431.4,103.2 1435.4,107.2 1435.1,109.0 1434.9,114.9 1434.8,120.7 1434.9,126.5 1435.1,132.3 1435.4,138.2 1435.5,144.0 1435.5,149.8 1435.3,155.7 1434.9,161.5 1434.3,167.3 1433.8,173.2 1433.4,179.0 1433.3,184.8 1433.4,190.7 1433.8,196.5 1434.3,202.3 1434.9,208.1 1435.3,214.0 1435.5,219.8 1435.5,225.6 1435.4,231.5 1435.3,237.3 1435.3,243.1 1435.4,248.9 1435.7,254.8 1436.1,260.6 1436.5,266.4 1436.9,272.3 1437.1,278.1 1437.0,283.9 1436.6,289.8 1436.1,295.6 1435.6,301.4 1435.1,307.2 1434.9,313.1 1434.9,318.9 1435.2,324.7 1435.6,330.6 1436.0,332.4 1432.0,336.4 1140,336.4" fill="#1424ff"/>
<polygon points="1140,110.0 1420.3,110.0 1424.3,114.0 1424.1,115.5 1424.0,121.0 1424.1,126.5 1424.3,132.0 1424.5,137.5 1424.7,143.0 1424.7,148.5 1424.6,154.0 1424.2,159.5 1423.7,164.9 1423.2,170.4 1422.8,175.9 1422.5,181.4 1422.5,186.9 1422.7,192.4 1423.1,197.9 1423.6,203.4 1424.1,208.9 1424.5,214.4 1424.7,219.9 1424.7,225.4 1424.7,230.9 1424.5,236.4 1424.5,241.9 1424.5,247.4 1424.8,252.9 1425.1,258.4 1425.6,263.9 1425.9,269.4 1426.2,274.9 1426.2,280.3 1426.1,285.8 1425.7,291.3 1425.2,296.8 1424.7,302.3 1424.3,307.8 1424.1,313.3 1424.1,318.8 1424.4,324.3 1424.7,325.8 1420.7,329.8 1140,329.8" fill="#00c8ff"/>
</g>
<rect x="1140" y="103.5" width="140" height="5.5" fill="#4010e8" opacity="0.7" filter="url(#b2)"/>
<g filter="url(#b5)">
<polygon points="1140,124.0 1405.1,124.0 1413.1,132.0 1413.3,133.7 1413.4,138.5 1413.5,143.3 1413.5,148.1 1413.4,152.9 1413.3,157.8 1413.1,162.6 1412.9,167.4 1412.6,172.2 1412.5,177.1 1412.4,181.9 1412.4,186.7 1412.4,191.6 1412.6,196.4 1412.8,201.2 1413.0,206.0 1413.2,210.8 1413.4,215.7 1413.5,220.5 1413.5,225.3 1413.4,230.2 1413.4,235.0 1413.3,239.8 1413.3,244.6 1413.4,249.4 1413.5,254.3 1413.7,259.1 1413.9,263.9 1414.1,268.8 1414.2,273.6 1414.2,278.4 1414.2,283.2 1414.1,288.1 1413.9,292.9 1413.7,297.7 1413.4,302.5 1413.3,307.4 1413.1,309.0 1405.1,317.0 1140,317.0" fill="#18ecff"/>
</g>
<g filter="url(#b3)">
<polygon points="1140,128.0 1400.1,128.0 1408.1,136.0 1408.2,137.2 1408.3,141.8 1408.3,146.4 1408.3,151.0 1408.2,155.6 1408.1,160.2 1408.0,164.8 1407.9,169.4 1407.7,174.0 1407.7,178.6 1407.6,183.2 1407.6,187.8 1407.7,192.4 1407.8,197.0 1407.9,201.6 1408.0,206.2 1408.1,210.8 1408.2,215.4 1408.3,220.0 1408.3,224.6 1408.3,229.2 1408.2,233.8 1408.2,238.4 1408.2,243.0 1408.2,247.6 1408.3,252.2 1408.4,256.8 1408.5,261.4 1408.6,266.0 1408.7,270.6 1408.7,275.2 1408.7,279.8 1408.7,284.4 1408.6,289.0 1408.5,293.6 1408.4,298.2 1408.3,302.8 1408.1,304.0 1400.1,312.0 1140,312.0" fill="#28f4ff"/>
</g>
<g filter="url(#b3)" opacity="0.55">
<ellipse cx="1299.7" cy="248.9" rx="12.1" ry="5.4" fill="#40f8ff"/>
<ellipse cx="1375.7" cy="230.1" rx="10.0" ry="8.9" fill="#80ffff"/>
<ellipse cx="1391.2" cy="190.3" rx="11.2" ry="6.4" fill="#58fcff"/>
<ellipse cx="1391.2" cy="249.5" rx="8.3" ry="5.5" fill="#08dcff"/>
<ellipse cx="1380.2" cy="269.7" rx="12.4" ry="7.4" fill="#58fcff"/>
<ellipse cx="1387.4" cy="234.5" rx="11.1" ry="4.6" fill="#70ffff"/>
<ellipse cx="1238.2" cy="296.9" rx="13.5" ry="9.0" fill="#70ffff"/>
<ellipse cx="1343.7" cy="153.2" rx="8.4" ry="5.2" fill="#58fcff"/>
<ellipse cx="1238.4" cy="196.5" rx="10.9" ry="6.8" fill="#08dcff"/>
<ellipse cx="1205.4" cy="150.7" rx="6.2" ry="8.4" fill="#40f8ff"/>
<ellipse cx="1327.3" cy="290.2" rx="6.5" ry="4.5" fill="#58fcff"/>
<ellipse cx="1160.7" cy="207.1" rx="8.6" ry="8.3" fill="#40f8ff"/>
<ellipse cx="1320.2" cy="216.1" rx="9.6" ry="5.8" fill="#80ffff"/>
<ellipse cx="1271.3" cy="291.9" rx="9.6" ry="4.0" fill="#08dcff"/>
<ellipse cx="1252.9" cy="276.7" rx="6.8" ry="8.4" fill="#70ffff"/>
<ellipse cx="1389.5" cy="249.3" rx="11.4" ry="8.4" fill="#40f8ff"/>
<ellipse cx="1371.5" cy="301.1" rx="11.5" ry="6.4" fill="#40f8ff"/>
<ellipse cx="1181.4" cy="243.1" rx="11.5" ry="6.3" fill="#08dcff"/>
<ellipse cx="1392.0" cy="206.4" rx="9.5" ry="7.1" fill="#08dcff"/>
<ellipse cx="1255.0" cy="272.7" rx="8.4" ry="8.8" fill="#08d4ff"/>
<ellipse cx="1185.9" cy="164.8" rx="11.3" ry="7.1" fill="#58fcff"/>
<ellipse cx="1382.4" cy="162.4" rx="11.4" ry="5.8" fill="#08dcff"/>
<ellipse cx="1266.3" cy="282.2" rx="12.9" ry="8.3" fill="#80ffff"/>
<ellipse cx="1320.9" cy="136.5" rx="11.6" ry="8.5" fill="#70ffff"/>
<ellipse cx="1215.8" cy="147.3" rx="8.0" ry="6.9" fill="#80ffff"/>
<ellipse cx="1188.8" cy="292.1" rx="7.5" ry="7.0" fill="#70ffff"/>
<ellipse cx="1387.0" cy="275.1" rx="10.3" ry="9.0" fill="#40f8ff"/>
<ellipse cx="1251.0" cy="291.4" rx="7.2" ry="4.1" fill="#70ffff"/>
<ellipse cx="1359.4" cy="156.0" rx="6.3" ry="4.1" fill="#08d4ff"/>
<ellipse cx="1353.9" cy="172.9" rx="6.8" ry="5.8" fill="#40f8ff"/>
<ellipse cx="1282.3" cy="188.2" rx="6.2" ry="7.4" fill="#70ffff"/>
<ellipse cx="1357.3" cy="223.5" rx="8.2" ry="5.6" fill="#80ffff"/>
<ellipse cx="1191.4" cy="192.5" rx="8.5" ry="6.5" fill="#08dcff"/>
<ellipse cx="1226.4" cy="293.1" rx="10.0" ry="8.2" fill="#58fcff"/>
<ellipse cx="1184.6" cy="207.9" rx="7.0" ry="8.0" fill="#80ffff"/>
<ellipse cx="1273.6" cy="190.9" rx="11.5" ry="4.0" fill="#70ffff"/>
<ellipse cx="1179.3" cy="193.4" rx="8.7" ry="5.3" fill="#58fcff"/>
<ellipse cx="1310.5" cy="283.3" rx="9.7" ry="7.0" fill="#80ffff"/>
<ellipse cx="1229.1" cy="266.3" rx="7.7" ry="4.2" fill="#08d4ff"/>
<ellipse cx="1256.5" cy="135.1" rx="6.6" ry="8.1" fill="#08d4ff"/>
<ellipse cx="1318.0" cy="309.8" rx="8.5" ry="8.0" fill="#70ffff"/>
<ellipse cx="1368.8" cy="256.4" rx="7.0" ry="4.8" fill="#08dcff"/>
<ellipse cx="1311.0" cy="271.4" rx="12.3" ry="6.5" fill="#08d4ff"/>
<ellipse cx="1373.9" cy="283.9" rx="12.4" ry="7.5" fill="#58fcff"/>
<ellipse cx="1338.9" cy="300.6" rx="10.7" ry="5.2" fill="#40f8ff"/>
<ellipse cx="1333.2" cy="201.2" rx="9.4" ry="7.2" fill="#70ffff"/>
<ellipse cx="1250.4" cy="212.9" rx="8.1" ry="8.1" fill="#70ffff"/>
<ellipse cx="1200.2" cy="202.1" rx="9.6" ry="4.9" fill="#08dcff"/>
<ellipse cx="1192.2" cy="174.5" rx="12.0" ry="8.7" fill="#08dcff"/>
<ellipse cx="1381.5" cy="302.5" rx="10.3" ry="4.5" fill="#08dcff"/>
</g>
<rect x="1140" y="112.4" width="250" height="4.8" fill="#38f428" filter="url(#b1)"/>
<rect x="1380" y="112.5" width="40" height="4" fill="#00e8ff" opacity="0.8" filter="url(#b2)"/>
<polygon points="1266,114 1346,114 1352,332 1260,332" fill="#18ffd8" opacity="0.7" filter="url(#b5)"/>
<polygon points="1279,114 1331,114 1336,330 1275,330" fill="#30ff98" opacity="0.8" filter="url(#b5)"/>
<polygon points="1287,114 1321,114 1323,328 1285,328" fill="#40ff60" opacity="0.7" filter="url(#b3)"/>
<ellipse cx="1312" cy="114.5" rx="38" ry="2.8" fill="#70f820" filter="url(#b1)"/>
<polygon points="1209,122.5 1240,119.8 1254,119.5 1258,122.5 1252,126 1238,125.3" fill="#2838ff" filter="url(#b1)"/>
<ellipse cx="1249" cy="122.6" rx="6" ry="2.2" fill="#5810e8" filter="url(#b1)"/>
<polygon points="1383,121.8 1398,118.6 1410,121.8 1398,125" fill="#3a28ff" filter="url(#b1)"/>
<ellipse cx="1398" cy="121.8" rx="4.5" ry="2" fill="#6010e8" filter="url(#b1)"/>
<ellipse cx="1180" cy="126" rx="18" ry="5" fill="#0098ff" opacity="0.7" filter="url(#b3)"/>
<ellipse cx="1430.4" cy="152" rx="3.6" ry="8" fill="#4a18f0" filter="url(#b1)"/>
<ellipse cx="1429.3" cy="203" rx="3.6" ry="8" fill="#4a18f0" filter="url(#b1)"/>
<ellipse cx="1430.4" cy="252" rx="3.6" ry="8" fill="#4a18f0" filter="url(#b1)"/>
<rect x="1140" y="327" width="290" height="6" fill="#0878ff" opacity="0.8" filter="url(#b3)"/>
<ellipse cx="1300" cy="333.4" rx="70" ry="2.6" fill="#4a10e0" filter="url(#b15)"/>
<ellipse cx="1200" cy="333.6" rx="60" ry="2.0" fill="#3020f0" opacity="0.8" filter="url(#b15)"/>
<rect x="1140" y="344" width="250" height="10" fill="#ff3800" opacity="0.75" filter="url(#b2)"/>
</g>
<line x1="1154.90" y1="156.80" x2="1478.80" y2="156.80" stroke="#0808ff" stroke-width="1.5" />
<line x1="1154.90" y1="300.20" x2="1478.80" y2="300.20" stroke="#0808ff" stroke-width="1.5" />
<line x1="1155.20" y1="156.80" x2="1155.20" y2="300.20" stroke="#0808ff" stroke-width="1.5" />
<line x1="1478.50" y1="156.80" x2="1478.50" y2="300.20" stroke="#0808ff" stroke-width="1.5" />
<path d="M1279.3,331 L1279.3,122.7 Q1279.3,121 1281,121 L1295,121 Q1296.7,121 1296.7,122.7 L1296.7,326 Q1297.5,331.3 1302,331.3 L1307,331.3 Q1312,331 1312,326 L1312,122.7 Q1312,121 1313.7,121 L1327.3,121 Q1329,121 1329,122.7 L1329,316" fill="none" stroke="#000" stroke-width="3.4" stroke-dasharray="3.5 3.9"/>
<polygon points="1323.8,313.7 1334.2,313.7 1329,330.8" fill="#000"/>
<line x1="1233.40" y1="222.40" x2="1270.00" y2="239.00" stroke="#000" stroke-width="2.6" />
<polygon points="1280.8,243.8 1263,242 1268.2,233" fill="#000"/>
<text transform="translate(1169.30,188.40) scale(1.1,1)" font-size="20.4" text-anchor="start" fill="#000">Scan</text>
<text transform="translate(1169.30,214.80) scale(1.1,1)" font-size="20.4" text-anchor="start" fill="#000">direction</text>
<line x1="1154.10" y1="76.50" x2="1479.60" y2="76.50" stroke="#111" stroke-width="2.0" />
<line x1="1154.90" y1="76.50" x2="1154.90" y2="348.90" stroke="#111" stroke-width="1.7" />
<line x1="1478.80" y1="76.50" x2="1478.80" y2="348.90" stroke="#111" stroke-width="1.7" />
<line x1="1154.10" y1="348.90" x2="1479.60" y2="348.90" stroke="#111" stroke-width="1.8" />
<line x1="1154.90" y1="72.50" x2="1154.90" y2="76.50" stroke="#1a1a1a" stroke-width="1.7" />
<line x1="1154.90" y1="348.90" x2="1154.90" y2="352.90" stroke="#1a1a1a" stroke-width="1.7" />
<text x="1154.90" y="69.00" font-size="17" text-anchor="middle" font-weight="normal" fill="#1a1a1a" >0</text>
<line x1="1187.29" y1="74.20" x2="1187.29" y2="76.50" stroke="#1a1a1a" stroke-width="1.4" />
<line x1="1187.29" y1="348.90" x2="1187.29" y2="351.20" stroke="#1a1a1a" stroke-width="1.4" />
<line x1="1219.68" y1="72.50" x2="1219.68" y2="76.50" stroke="#1a1a1a" stroke-width="1.7" />
<line x1="1219.68" y1="348.90" x2="1219.68" y2="352.90" stroke="#1a1a1a" stroke-width="1.7" />
<text x="1219.68" y="69.00" font-size="17" text-anchor="middle" font-weight="normal" fill="#1a1a1a" >2</text>
<line x1="1252.07" y1="74.20" x2="1252.07" y2="76.50" stroke="#1a1a1a" stroke-width="1.4" />
<line x1="1252.07" y1="348.90" x2="1252.07" y2="351.20" stroke="#1a1a1a" stroke-width="1.4" />
<line x1="1284.46" y1="72.50" x2="1284.46" y2="76.50" stroke="#1a1a1a" stroke-width="1.7" />
<line x1="1284.46" y1="348.90" x2="1284.46" y2="352.90" stroke="#1a1a1a" stroke-width="1.7" />
<text x="1284.46" y="69.00" font-size="17" text-anchor="middle" font-weight="normal" fill="#1a1a1a" >4</text>
<line x1="1316.85" y1="74.20" x2="1316.85" y2="76.50" stroke="#1a1a1a" stroke-width="1.4" />
<line x1="1316.85" y1="348.90" x2="1316.85" y2="351.20" stroke="#1a1a1a" stroke-width="1.4" />
<line x1="1349.24" y1="72.50" x2="1349.24" y2="76.50" stroke="#1a1a1a" stroke-width="1.7" />
<line x1="1349.24" y1="348.90" x2="1349.24" y2="352.90" stroke="#1a1a1a" stroke-width="1.7" />
<text x="1349.24" y="69.00" font-size="17" text-anchor="middle" font-weight="normal" fill="#1a1a1a" >6</text>
<line x1="1381.63" y1="74.20" x2="1381.63" y2="76.50" stroke="#1a1a1a" stroke-width="1.4" />
<line x1="1381.63" y1="348.90" x2="1381.63" y2="351.20" stroke="#1a1a1a" stroke-width="1.4" />
<line x1="1414.02" y1="72.50" x2="1414.02" y2="76.50" stroke="#1a1a1a" stroke-width="1.7" />
<line x1="1414.02" y1="348.90" x2="1414.02" y2="352.90" stroke="#1a1a1a" stroke-width="1.7" />
<text x="1414.02" y="69.00" font-size="17" text-anchor="middle" font-weight="normal" fill="#1a1a1a" >8</text>
<line x1="1446.41" y1="74.20" x2="1446.41" y2="76.50" stroke="#1a1a1a" stroke-width="1.4" />
<line x1="1446.41" y1="348.90" x2="1446.41" y2="351.20" stroke="#1a1a1a" stroke-width="1.4" />
<line x1="1478.80" y1="72.50" x2="1478.80" y2="76.50" stroke="#1a1a1a" stroke-width="1.7" />
<line x1="1478.80" y1="348.90" x2="1478.80" y2="352.90" stroke="#1a1a1a" stroke-width="1.7" />
<text x="1478.80" y="69.00" font-size="17" text-anchor="middle" font-weight="normal" fill="#1a1a1a" >10</text>
<line x1="1150.70" y1="349.40" x2="1154.90" y2="349.40" stroke="#1a1a1a" stroke-width="1.7" />
<line x1="1478.80" y1="349.40" x2="1482.80" y2="349.40" stroke="#1a1a1a" stroke-width="1.7" />
<text x="1147.60" y="354.70" font-size="17" text-anchor="end" font-weight="normal" fill="#1a1a1a" >0</text>
<line x1="1152.60" y1="319.00" x2="1154.90" y2="319.00" stroke="#1a1a1a" stroke-width="1.4" />
<line x1="1478.80" y1="319.00" x2="1481.10" y2="319.00" stroke="#1a1a1a" stroke-width="1.4" />
<line x1="1150.70" y1="288.60" x2="1154.90" y2="288.60" stroke="#1a1a1a" stroke-width="1.7" />
<line x1="1478.80" y1="288.60" x2="1482.80" y2="288.60" stroke="#1a1a1a" stroke-width="1.7" />
<text x="1147.60" y="293.90" font-size="17" text-anchor="end" font-weight="normal" fill="#1a1a1a" >4</text>
<line x1="1152.60" y1="258.20" x2="1154.90" y2="258.20" stroke="#1a1a1a" stroke-width="1.4" />
<line x1="1478.80" y1="258.20" x2="1481.10" y2="258.20" stroke="#1a1a1a" stroke-width="1.4" />
<line x1="1150.70" y1="227.80" x2="1154.90" y2="227.80" stroke="#1a1a1a" stroke-width="1.7" />
<line x1="1478.80" y1="227.80" x2="1482.80" y2="227.80" stroke="#1a1a1a" stroke-width="1.7" />
<text x="1147.60" y="233.10" font-size="17" text-anchor="end" font-weight="normal" fill="#1a1a1a" >8</text>
<line x1="1152.60" y1="197.40" x2="1154.90" y2="197.40" stroke="#1a1a1a" stroke-width="1.4" />
<line x1="1478.80" y1="197.40" x2="1481.10" y2="197.40" stroke="#1a1a1a" stroke-width="1.4" />
<line x1="1150.70" y1="167.00" x2="1154.90" y2="167.00" stroke="#1a1a1a" stroke-width="1.7" />
<line x1="1478.80" y1="167.00" x2="1482.80" y2="167.00" stroke="#1a1a1a" stroke-width="1.7" />
<text x="1147.60" y="172.30" font-size="17" text-anchor="end" font-weight="normal" fill="#1a1a1a" >12</text>
<line x1="1152.60" y1="136.60" x2="1154.90" y2="136.60" stroke="#1a1a1a" stroke-width="1.4" />
<line x1="1478.80" y1="136.60" x2="1481.10" y2="136.60" stroke="#1a1a1a" stroke-width="1.4" />
<line x1="1150.70" y1="106.20" x2="1154.90" y2="106.20" stroke="#1a1a1a" stroke-width="1.7" />
<line x1="1478.80" y1="106.20" x2="1482.80" y2="106.20" stroke="#1a1a1a" stroke-width="1.7" />
<text x="1147.60" y="111.50" font-size="17" text-anchor="end" font-weight="normal" fill="#1a1a1a" >16</text>
<line x1="1152.60" y1="75.80" x2="1154.90" y2="75.80" stroke="#1a1a1a" stroke-width="1.4" />
<line x1="1478.80" y1="75.80" x2="1481.10" y2="75.80" stroke="#1a1a1a" stroke-width="1.4" />
<text x="1316.30" y="39.20" font-size="20.4" text-anchor="middle" font-weight="normal" fill="#1a1a1a" >X position (mm)</text>
<text transform="translate(1121.30,211.80) rotate(-90)" font-size="20.4" text-anchor="middle" fill="#1a1a1a">Z position (mm)</text>
<line x1="1154.60" y1="427.29" x2="1333.00" y2="427.29" stroke="#000" stroke-width="1.8" stroke-dasharray="1.2 0.8 1.2 0.8 1.2 0.8 1.2 0.8 1.2 2.2"/>
<g clip-path="url(#clipH)">
<polyline fill="none" stroke="#000" stroke-width="2.8" stroke-linejoin="round" points="1154.6,550.6 1169.2,550.6 1187.0,542.2 1196.7,550.6 1230.8,550.6 1235.6,546.0 1245.4,550.6 1253.5,550.6 1268.1,533.1 1284.3,440.7 1300.5,427.0 1316.7,459.0 1332.9,492.6 1349.1,542.2 1355.6,550.6 1436.0,550.6 1438.0,489.6 1441.5,394.9"/>
</g>
<text transform="translate(1337.50,431.60) scale(1.07,1)" font-size="21" text-anchor="start" fill="#111">8.1 %</text>
<rect x="1154.6" y="398.0" width="324.20" height="152.60" fill="none" stroke="#111" stroke-width="1.9"/>
<line x1="1154.60" y1="394.00" x2="1154.60" y2="398.00" stroke="#1a1a1a" stroke-width="1.7" />
<line x1="1154.60" y1="550.60" x2="1154.60" y2="554.60" stroke="#1a1a1a" stroke-width="1.7" />
<text x="1154.60" y="570.70" font-size="17" text-anchor="middle" font-weight="normal" fill="#1a1a1a" >0</text>
<line x1="1187.02" y1="395.70" x2="1187.02" y2="398.00" stroke="#1a1a1a" stroke-width="1.4" />
<line x1="1187.02" y1="550.60" x2="1187.02" y2="552.90" stroke="#1a1a1a" stroke-width="1.4" />
<line x1="1219.44" y1="394.00" x2="1219.44" y2="398.00" stroke="#1a1a1a" stroke-width="1.7" />
<line x1="1219.44" y1="550.60" x2="1219.44" y2="554.60" stroke="#1a1a1a" stroke-width="1.7" />
<text x="1219.44" y="570.70" font-size="17" text-anchor="middle" font-weight="normal" fill="#1a1a1a" >2</text>
<line x1="1251.86" y1="395.70" x2="1251.86" y2="398.00" stroke="#1a1a1a" stroke-width="1.4" />
<line x1="1251.86" y1="550.60" x2="1251.86" y2="552.90" stroke="#1a1a1a" stroke-width="1.4" />
<line x1="1284.28" y1="394.00" x2="1284.28" y2="398.00" stroke="#1a1a1a" stroke-width="1.7" />
<line x1="1284.28" y1="550.60" x2="1284.28" y2="554.60" stroke="#1a1a1a" stroke-width="1.7" />
<text x="1284.28" y="570.70" font-size="17" text-anchor="middle" font-weight="normal" fill="#1a1a1a" >4</text>
<line x1="1316.70" y1="395.70" x2="1316.70" y2="398.00" stroke="#1a1a1a" stroke-width="1.4" />
<line x1="1316.70" y1="550.60" x2="1316.70" y2="552.90" stroke="#1a1a1a" stroke-width="1.4" />
<line x1="1349.12" y1="394.00" x2="1349.12" y2="398.00" stroke="#1a1a1a" stroke-width="1.7" />
<line x1="1349.12" y1="550.60" x2="1349.12" y2="554.60" stroke="#1a1a1a" stroke-width="1.7" />
<text x="1349.12" y="570.70" font-size="17" text-anchor="middle" font-weight="normal" fill="#1a1a1a" >6</text>
<line x1="1381.54" y1="395.70" x2="1381.54" y2="398.00" stroke="#1a1a1a" stroke-width="1.4" />
<line x1="1381.54" y1="550.60" x2="1381.54" y2="552.90" stroke="#1a1a1a" stroke-width="1.4" />
<line x1="1413.96" y1="394.00" x2="1413.96" y2="398.00" stroke="#1a1a1a" stroke-width="1.7" />
<line x1="1413.96" y1="550.60" x2="1413.96" y2="554.60" stroke="#1a1a1a" stroke-width="1.7" />
<text x="1413.96" y="570.70" font-size="17" text-anchor="middle" font-weight="normal" fill="#1a1a1a" >8</text>
<line x1="1446.38" y1="395.70" x2="1446.38" y2="398.00" stroke="#1a1a1a" stroke-width="1.4" />
<line x1="1446.38" y1="550.60" x2="1446.38" y2="552.90" stroke="#1a1a1a" stroke-width="1.4" />
<line x1="1478.80" y1="394.00" x2="1478.80" y2="398.00" stroke="#1a1a1a" stroke-width="1.7" />
<line x1="1478.80" y1="550.60" x2="1478.80" y2="554.60" stroke="#1a1a1a" stroke-width="1.7" />
<text x="1478.80" y="570.70" font-size="17" text-anchor="middle" font-weight="normal" fill="#1a1a1a" >10</text>
<line x1="1150.40" y1="550.60" x2="1154.60" y2="550.60" stroke="#1a1a1a" stroke-width="1.7" />
<text x="1146.50" y="555.20" font-size="17" text-anchor="end" font-weight="normal" fill="#1a1a1a" >0</text>
<line x1="1152.30" y1="535.34" x2="1154.60" y2="535.34" stroke="#1a1a1a" stroke-width="1.4" />
<line x1="1150.40" y1="520.08" x2="1154.60" y2="520.08" stroke="#1a1a1a" stroke-width="1.7" />
<text x="1146.50" y="524.68" font-size="17" text-anchor="end" font-weight="normal" fill="#1a1a1a" >2</text>
<line x1="1152.30" y1="504.82" x2="1154.60" y2="504.82" stroke="#1a1a1a" stroke-width="1.4" />
<line x1="1150.40" y1="489.56" x2="1154.60" y2="489.56" stroke="#1a1a1a" stroke-width="1.7" />
<text x="1146.50" y="494.16" font-size="17" text-anchor="end" font-weight="normal" fill="#1a1a1a" >4</text>
<line x1="1152.30" y1="474.30" x2="1154.60" y2="474.30" stroke="#1a1a1a" stroke-width="1.4" />
<line x1="1150.40" y1="459.04" x2="1154.60" y2="459.04" stroke="#1a1a1a" stroke-width="1.7" />
<text x="1146.50" y="463.64" font-size="17" text-anchor="end" font-weight="normal" fill="#1a1a1a" >6</text>
<line x1="1152.30" y1="443.78" x2="1154.60" y2="443.78" stroke="#1a1a1a" stroke-width="1.4" />
<line x1="1150.40" y1="428.52" x2="1154.60" y2="428.52" stroke="#1a1a1a" stroke-width="1.7" />
<text x="1146.50" y="433.12" font-size="17" text-anchor="end" font-weight="normal" fill="#1a1a1a" >8</text>
<line x1="1152.30" y1="413.26" x2="1154.60" y2="413.26" stroke="#1a1a1a" stroke-width="1.4" />
<line x1="1150.40" y1="398.00" x2="1154.60" y2="398.00" stroke="#1a1a1a" stroke-width="1.7" />
<text x="1146.50" y="402.60" font-size="17" text-anchor="end" font-weight="normal" fill="#1a1a1a" >10</text>
<text x="1316.00" y="600.60" font-size="20.4" text-anchor="middle" font-weight="normal" fill="#1a1a1a" >X position (mm)</text>
<text transform="translate(1120.30,474.40) rotate(-90)" font-size="19.2" text-anchor="middle" fill="#1a1a1a">T (%)</text>
</svg>
</body>
</html>
